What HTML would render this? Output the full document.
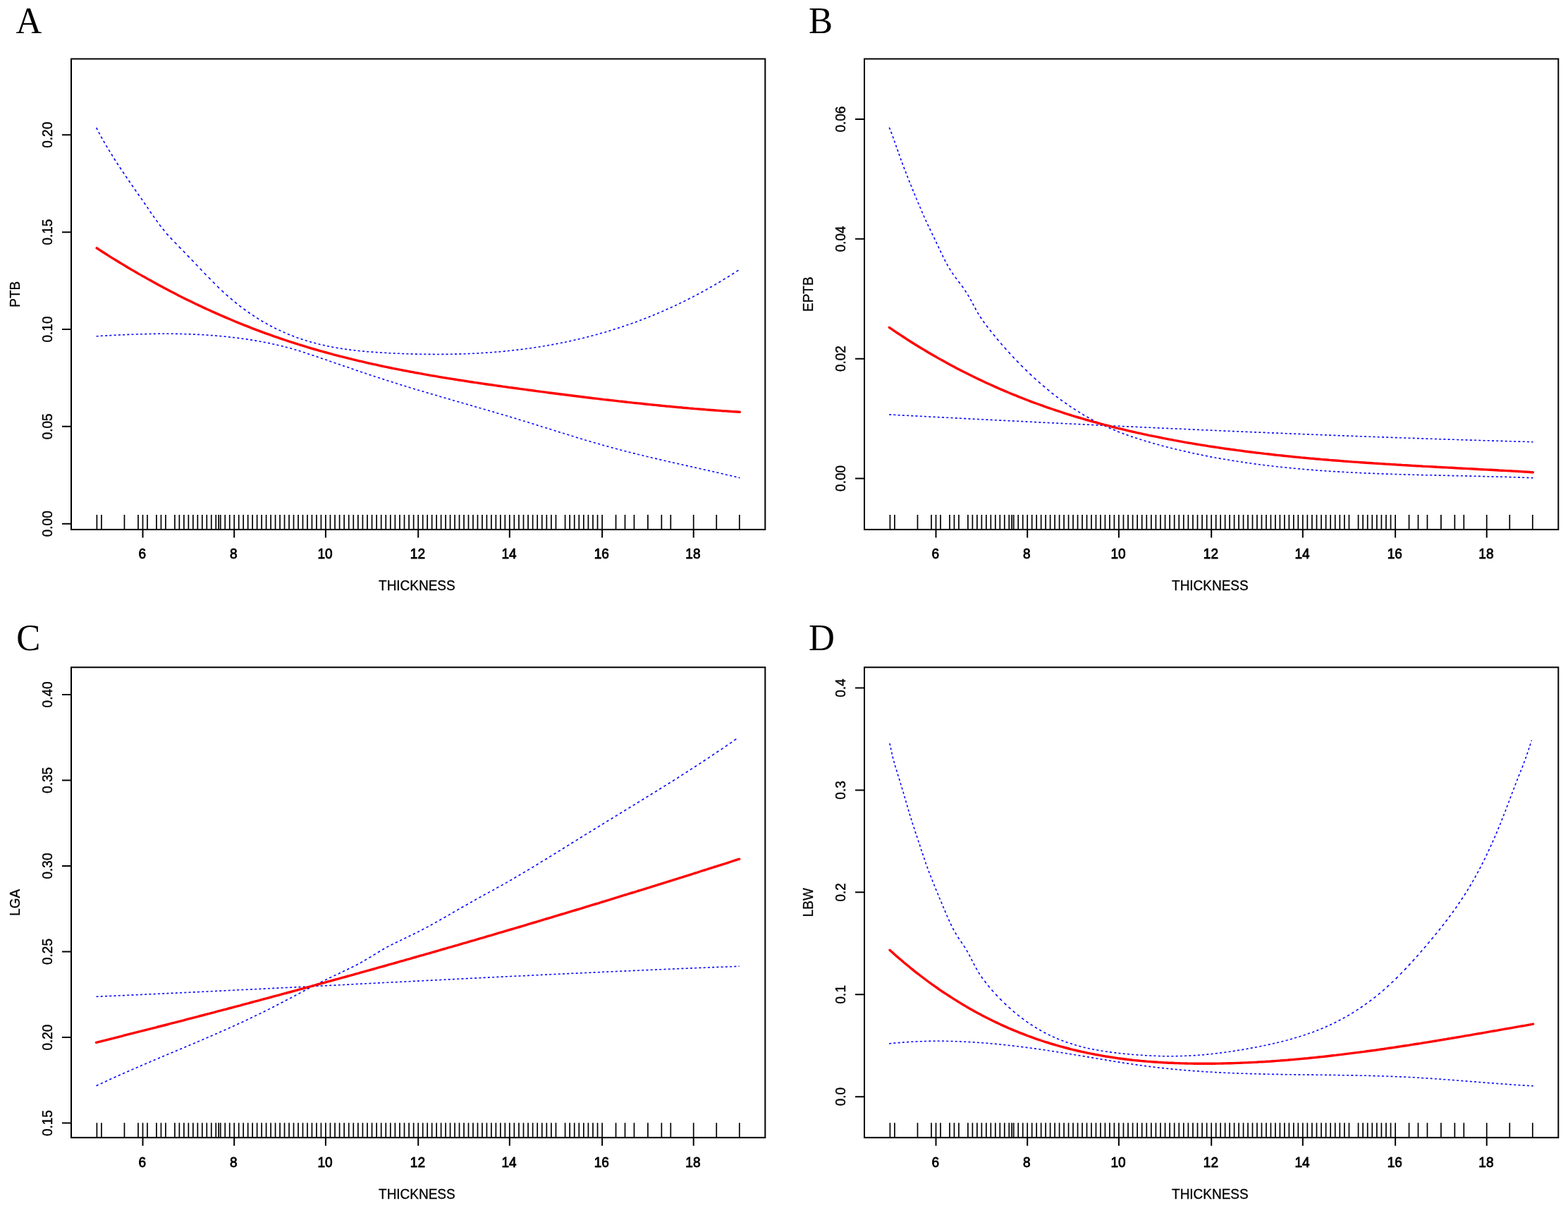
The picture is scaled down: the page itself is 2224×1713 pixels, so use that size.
<!DOCTYPE html><html><head><meta charset="utf-8"><title>Figure</title><style>
html,body{margin:0;padding:0;background:#fff;}body{width:2224px;height:1713px;overflow:hidden;}
svg{display:block;}
.ax{font-family:"Liberation Sans",Arial,sans-serif;font-size:19px;fill:#000;stroke:#000;stroke-width:0.3px;}
.tk{font-family:"Liberation Sans",Arial,sans-serif;font-size:19px;fill:#000;stroke:#000;stroke-width:0.8px;}
.tkr{font-family:"Liberation Sans",Arial,sans-serif;font-size:19px;fill:#000;stroke:#000;stroke-width:0.4px;}
.lt{font-family:"Liberation Serif","Times New Roman",serif;font-size:51px;fill:#000;}
</style></head><body>
<svg width="2224" height="1713" viewBox="0 0 2224 1713">
<rect width="2224" height="1713" fill="#fff"/>
<g><path d="M136.6 476.8L138.1 476.7 139.6 476.7M142.8 476.4L144.3 476.3 145.8 476.2M149.1 476.1L150.6 476.0 152.1 475.9M155.3 475.7L156.8 475.6 158.3 475.5M161.6 475.4L163.1 475.3 164.6 475.2M167.8 475.0L169.3 475.0 170.8 474.9M174.0 474.7L175.5 474.7 177.0 474.6M180.3 474.5L181.8 474.4 183.3 474.4M186.5 474.3L188.0 474.2 189.5 474.2M192.8 474.0L194.3 474.0 195.8 473.9M199.0 473.8L200.5 473.8 202.0 473.8M205.2 473.7L206.7 473.6 208.2 473.6M211.5 473.5L213.0 473.5 214.5 473.5M217.7 473.4L219.2 473.4 220.7 473.4M224.0 473.3L225.5 473.3 227.0 473.3M230.2 473.3L231.7 473.3 233.2 473.3M236.4 473.3L237.9 473.3 239.4 473.3M242.7 473.3L244.2 473.3 245.7 473.3M248.9 473.4L250.4 473.4 251.9 473.4M255.2 473.5L256.7 473.5 258.2 473.5M261.4 473.6L262.9 473.7 264.4 473.7M267.6 473.8L269.1 473.9 270.6 473.9M273.9 474.1L275.4 474.1 276.9 474.2M280.1 474.4L281.6 474.4 283.1 474.5M286.4 474.7L287.9 474.8 289.4 474.8M292.6 475.1L294.1 475.2 295.6 475.2M298.8 475.5L300.3 475.6 301.8 475.7M305.1 475.9L306.6 476.1 308.1 476.2M311.3 476.5L312.8 476.6 314.3 476.8M317.6 477.1L319.1 477.2 320.6 477.4M323.8 477.8L325.3 478.0 326.8 478.1M330.0 478.5L331.5 478.6 333.0 478.8M336.3 479.2L337.8 479.4 339.3 479.6M342.5 480.1L344.0 480.3 345.5 480.5M348.8 480.9L350.3 481.1 351.8 481.3M355.0 481.9L356.5 482.1 358.0 482.4M361.2 482.9L362.7 483.1 364.2 483.4M367.5 484.0L369.0 484.2 370.5 484.5M373.7 485.2L375.2 485.4 376.7 485.7M380.0 486.3L381.5 486.6 383.0 487.0M386.2 487.7L387.7 488.0 389.2 488.3M392.4 489.0L393.9 489.4 395.4 489.7M398.7 490.5L400.2 490.8 401.7 491.2M404.9 492.0L406.4 492.4 407.9 492.8M411.2 493.6L412.7 494.1 414.2 494.5M417.4 495.5L418.9 495.9 420.4 496.3M423.6 497.3L425.1 497.8 426.6 498.3M429.9 499.4L431.4 499.8 432.9 500.3M436.1 501.4L437.6 501.9 439.1 502.4M442.4 503.5L443.9 504.0 445.4 504.5M448.6 505.5L450.1 506.1 451.6 506.6M454.8 507.7L456.3 508.2 457.8 508.7M461.1 509.8L462.6 510.3 464.1 510.8M467.3 511.9L468.8 512.5 470.3 513.0M473.6 514.1L475.1 514.7 476.6 515.2M479.8 516.2L481.3 516.7 482.8 517.3M486.0 518.4L487.5 518.9 489.0 519.4M492.3 520.6L493.8 521.1 495.3 521.6M498.5 522.7L500.0 523.2 501.5 523.7M504.8 524.9L506.3 525.4 507.8 525.9M511.0 527.0L512.5 527.5 514.0 528.0M517.2 529.1L518.7 529.6 520.2 530.1M523.5 531.2L525.0 531.7 526.5 532.2M529.7 533.3L531.2 533.8 532.7 534.2M536.0 535.3L537.5 535.8 539.0 536.3M542.2 537.3L543.7 537.8 545.2 538.3M548.4 539.4L549.9 539.8 551.4 540.3M554.7 541.3L556.2 541.8 557.7 542.3M560.9 543.3L562.4 543.8 563.9 544.2M567.2 545.2L568.7 545.7 570.2 546.2M573.4 547.2L574.9 547.6 576.4 548.1M579.6 549.0L581.1 549.5 582.6 550.0M585.9 551.0L587.4 551.4 588.9 551.9M592.1 552.9L593.6 553.3 595.1 553.7M598.4 554.7L599.9 555.1 601.4 555.5M604.6 556.5L606.1 556.9 607.6 557.4M610.8 558.4L612.3 558.8 613.8 559.3M617.1 560.2L618.6 560.6 620.1 561.0M623.3 562.0L624.8 562.4 626.3 562.9M629.6 563.9L631.1 564.3 632.6 564.7M635.8 565.6L637.3 566.1 638.8 566.5M642.0 567.4L643.5 567.9 645.0 568.3M648.3 569.3L649.8 569.7 651.3 570.1M654.5 571.1L656.0 571.5 657.5 571.9M660.8 572.8L662.3 573.3 663.8 573.7M667.0 574.6L668.5 575.1 670.0 575.5M673.2 576.5L674.7 576.9 676.2 577.3M679.5 578.2L681.0 578.7 682.5 579.1M685.7 580.1L687.2 580.5 688.7 580.9M692.0 581.9L693.5 582.3 695.0 582.7M698.2 583.7L699.7 584.1 701.2 584.6M704.4 585.5L705.9 586.0 707.4 586.4M710.7 587.4L712.2 587.8 713.7 588.2M716.9 589.2L718.4 589.6 719.9 590.1M723.2 591.0L724.7 591.5 726.2 591.9M729.4 592.9L730.9 593.3 732.4 593.8M735.6 594.8L737.1 595.2 738.6 595.7M741.9 596.7L743.4 597.2 744.9 597.6M748.1 598.6L749.6 599.1 751.1 599.5M754.4 600.5L755.9 601.0 757.4 601.5M760.6 602.5L762.1 602.9 763.6 603.4M766.8 604.4L768.3 604.9 769.8 605.3M773.1 606.4L774.6 606.8 776.1 607.3M779.3 608.3L780.8 608.8 782.3 609.3M785.6 610.2L787.1 610.7 788.6 611.2M791.8 612.2L793.3 612.7 794.8 613.2M798.0 614.2L799.5 614.6 801.0 615.1M804.3 616.1L805.8 616.6 807.3 617.1M810.5 618.0L812.0 618.5 813.5 618.9M816.8 619.9L818.3 620.4 819.8 620.9M823.0 621.9L824.5 622.3 826.0 622.8M829.2 623.7L830.7 624.2 832.2 624.6M835.5 625.6L837.0 626.0 838.5 626.4M841.7 627.4L843.2 627.8 844.7 628.3M848.0 629.2L849.5 629.6 851.0 630.1M854.2 631.0L855.7 631.4 857.2 631.8M860.4 632.7L861.9 633.1 863.4 633.5M866.7 634.4L868.2 634.8 869.7 635.2M872.9 636.1L874.4 636.5 875.9 636.9M879.2 637.7L880.7 638.2 882.2 638.5M885.4 639.4L886.9 639.8 888.4 640.2M891.6 641.0L893.1 641.4 894.6 641.8M897.9 642.6L899.4 642.9 900.9 643.3M904.1 644.1L905.6 644.5 907.1 644.8M910.4 645.6L911.9 646.0 913.4 646.3M916.6 647.1L918.1 647.5 919.6 647.8M922.8 648.6L924.3 649.0 925.8 649.3M929.1 650.1L930.6 650.4 932.1 650.8M935.3 651.6L936.8 651.9 938.3 652.3M941.6 653.0L943.1 653.3 944.6 653.7M947.8 654.4L949.3 654.8 950.8 655.2M954.0 655.9L955.5 656.2 957.0 656.6M960.3 657.3L961.8 657.6 963.3 658.0M966.5 658.7L968.0 659.0 969.5 659.4M972.8 660.1L974.3 660.4 975.8 660.8M979.0 661.5L980.5 661.8 982.0 662.2M985.2 662.9L986.7 663.2 988.2 663.6M991.5 664.3L993.0 664.6 994.5 665.0M997.7 665.7L999.2 666.0 1000.7 666.4M1004.0 667.1L1005.5 667.4 1007.0 667.8M1010.2 668.5L1011.7 668.8 1013.2 669.2M1016.4 669.9L1017.9 670.2 1019.4 670.6M1022.7 671.3L1024.2 671.7 1025.7 672.1M1028.9 672.8L1030.4 673.2 1031.9 673.5M1035.2 674.3L1036.7 674.6 1038.2 675.0M1041.4 675.7L1042.9 676.1 1044.4 676.5M1047.6 677.2L1048.5 677.4 1049.3 677.6" fill="none" stroke="#0000ff" stroke-width="1.6"/><path d="M136.6 181.1L137.4 182.6 138.2 184.1M139.9 187.3L140.7 188.8 141.6 190.3M143.3 193.6L144.2 195.1 145.0 196.6M146.8 199.8L147.7 201.3 148.5 202.8M150.4 206.1L151.3 207.6 152.3 209.1M154.2 212.3L155.1 213.8 156.0 215.3M158.0 218.5L158.9 220.0 159.8 221.5M161.8 224.8L162.8 226.3 163.7 227.8M165.8 231.0L166.8 232.5 167.7 234.0M169.9 237.3L170.9 238.8 171.9 240.3M174.1 243.5L175.1 245.0 176.1 246.5M178.3 249.7L179.3 251.2 180.4 252.7M182.6 256.0L183.6 257.5 184.6 259.0M186.9 262.2L187.9 263.7 189.0 265.2M191.2 268.5L192.2 270.0 193.3 271.5M195.5 274.7L196.6 276.2 197.6 277.7M199.9 280.9L201.0 282.4 202.0 283.9M204.3 287.2L205.3 288.7 206.3 290.2M208.6 293.4L209.6 294.9 210.6 296.4M212.8 299.7L213.8 301.2 214.9 302.7M217.1 305.9L218.2 307.4 219.2 308.9M221.5 312.1L222.6 313.6 223.7 315.1M226.1 318.4L227.2 319.9 228.4 321.4M230.9 324.6L232.1 326.1 233.3 327.6M236.0 330.9L237.3 332.4 238.7 333.9M241.6 337.1L243.0 338.6 244.3 340.1M247.5 343.3L249.0 344.8 250.5 346.3M253.7 349.6L255.1 351.1 256.6 352.6M259.8 355.8L261.2 357.3 262.6 358.8M265.7 362.1L267.2 363.6 268.6 365.1M271.7 368.3L273.2 369.8 274.6 371.3M277.7 374.5L279.1 376.0 280.6 377.5M283.7 380.8L285.1 382.3 286.5 383.8M289.6 387.0L291.0 388.5 292.5 390.0M295.7 393.3L297.2 394.8 298.6 396.3M301.8 399.5L303.3 401.0 304.8 402.5M308.0 405.7L309.5 407.2 311.0 408.7M314.3 411.7L315.8 413.2 317.3 414.6M320.5 417.5L322.0 418.8 323.5 420.1M326.8 422.9L328.3 424.2 329.8 425.5M333.0 428.2L334.5 429.4 336.0 430.6M339.2 433.2L340.7 434.4 342.2 435.5M345.5 438.0L347.0 439.0 348.5 440.1M351.7 442.4L353.2 443.5 354.7 444.5M358.0 446.7L359.5 447.7 361.0 448.7M364.2 450.8L365.7 451.7 367.2 452.7M370.4 454.7L371.9 455.5 373.4 456.4M376.7 458.3L378.2 459.1 379.7 459.9M382.9 461.7L384.4 462.5 385.9 463.3M389.2 465.0L390.7 465.7 392.2 466.4M395.4 467.9L396.9 468.6 398.4 469.3M401.6 470.8L403.1 471.4 404.6 472.1M407.9 473.5L409.4 474.2 410.9 474.8M414.1 476.1L415.6 476.6 417.1 477.2M420.4 478.4L421.9 478.9 423.4 479.4M426.6 480.6L428.1 481.0 429.6 481.5M432.8 482.6L434.3 483.1 435.8 483.5M439.1 484.5L440.6 484.9 442.1 485.3M445.3 486.1L446.8 486.6 448.3 487.0M451.6 487.8L453.1 488.2 454.6 488.5M457.8 489.3L459.3 489.6 460.8 490.0M464.0 490.7L465.5 491.0 467.0 491.3M470.3 491.9L471.8 492.2 473.3 492.5M476.5 493.0L478.0 493.3 479.5 493.6M482.8 494.1L484.3 494.3 485.8 494.6M489.0 495.0L490.5 495.3 492.0 495.4M495.2 495.9L496.7 496.1 498.2 496.3M501.5 496.6L503.0 496.8 504.5 497.0M507.7 497.4L509.2 497.5 510.7 497.7M514.0 498.0L515.5 498.1 517.0 498.3M520.2 498.6L521.7 498.7 523.2 498.8M526.4 499.0L527.9 499.1 529.4 499.2M532.7 499.5L534.2 499.6 535.7 499.7M538.9 499.9L540.4 500.0 541.9 500.1M545.2 500.2L546.7 500.3 548.2 500.4M551.4 500.7L552.9 500.7 554.4 500.8M557.6 501.0L559.1 501.0 560.6 501.1M563.9 501.2L565.4 501.3 566.9 501.3M570.1 501.5L571.6 501.5 573.1 501.6M576.4 501.7L577.9 501.8 579.4 501.8M582.6 501.9L584.1 501.9 585.6 502.0M588.8 502.1L590.3 502.1 591.8 502.1M595.1 502.2L596.6 502.3 598.1 502.3M601.3 502.3L602.8 502.3 604.3 502.3M607.6 502.4L609.1 502.4 610.6 502.4M613.8 502.4L615.3 502.4 616.8 502.5M620.0 502.5L621.5 502.5 623.0 502.5M626.3 502.4L627.8 502.4 629.3 502.4M632.5 502.4L634.0 502.4 635.5 502.4M638.8 502.3L640.3 502.3 641.8 502.2M645.0 502.1L646.5 502.1 648.0 502.1M651.2 502.0L652.7 501.9 654.2 501.9M657.5 501.8L659.0 501.8 660.5 501.7M663.7 501.6L665.2 501.5 666.7 501.5M670.0 501.3L671.5 501.3 673.0 501.2M676.2 501.0L677.7 501.0 679.2 500.9M682.4 500.6L683.9 500.5 685.4 500.5M688.7 500.3L690.2 500.1 691.7 500.0M694.9 499.8L696.4 499.7 697.9 499.6M701.2 499.3L702.7 499.2 704.2 499.1M707.4 498.9L708.9 498.7 710.4 498.6M713.6 498.2L715.1 498.1 716.6 497.9M719.9 497.6L721.4 497.5 722.9 497.3M726.1 497.0L727.6 496.8 729.1 496.6M732.4 496.3L733.9 496.1 735.4 496.0M738.6 495.6L740.1 495.4 741.6 495.2M744.8 494.7L746.3 494.5 747.8 494.3M751.1 493.9L752.6 493.7 754.1 493.5M757.3 493.0L758.8 492.7 760.3 492.5M763.6 492.0L765.1 491.8 766.6 491.6M769.8 491.0L771.3 490.8 772.8 490.5M776.0 490.0L777.5 489.7 779.0 489.4M782.3 488.9L783.8 488.6 785.3 488.3M788.5 487.7L790.0 487.4 791.5 487.2M794.8 486.5L796.3 486.2 797.8 485.9M801.0 485.3L802.5 485.0 804.0 484.6M807.2 483.9L808.7 483.6 810.2 483.2M813.5 482.5L815.0 482.2 816.5 481.9M819.7 481.1L821.2 480.8 822.7 480.5M826.0 479.7L827.5 479.3 829.0 478.9M832.2 478.1L833.7 477.7 835.2 477.4M838.4 476.5L839.9 476.1 841.4 475.7M844.7 474.8L846.2 474.4 847.7 474.0M850.9 473.1L852.4 472.6 853.9 472.2M857.2 471.3L858.7 470.9 860.2 470.4M863.4 469.5L864.9 469.0 866.4 468.6M869.6 467.5L871.1 467.0 872.6 466.6M875.9 465.5L877.4 465.0 878.9 464.5M882.1 463.5L883.6 463.0 885.1 462.5M888.4 461.3L889.9 460.8 891.4 460.3M894.6 459.2L896.1 458.7 897.6 458.1M900.8 457.0L902.3 456.4 903.8 455.8M907.1 454.6L908.6 454.1 910.1 453.5M913.3 452.3L914.8 451.7 916.3 451.1M919.6 449.8L921.1 449.2 922.6 448.6M925.8 447.3L927.3 446.7 928.8 446.1M932.0 444.7L933.5 444.1 935.0 443.4M938.3 442.1L939.8 441.4 941.3 440.8M944.5 439.3L946.0 438.6 947.5 438.0M950.8 436.5L952.3 435.8 953.8 435.1M957.0 433.6L958.5 432.9 960.0 432.3M963.2 430.7L964.7 429.9 966.2 429.2M969.5 427.7L971.0 426.9 972.5 426.2M975.7 424.5L977.2 423.8 978.7 423.0M982.0 421.4L983.5 420.6 985.0 419.8M988.2 418.1L989.7 417.3 991.2 416.5M994.4 414.8L995.9 414.0 997.4 413.2M1000.7 411.4L1002.2 410.5 1003.7 409.6M1006.9 407.8L1008.4 407.0 1009.9 406.2M1013.2 404.3L1014.7 403.4 1016.2 402.5M1019.4 400.7L1020.9 399.8 1022.4 398.8M1025.6 396.8L1027.1 395.9 1028.6 395.0M1031.9 393.0L1033.4 392.1 1034.9 391.2M1038.1 389.2L1039.6 388.2 1041.1 387.3M1044.4 385.2L1045.9 384.2 1047.4 383.2" fill="none" stroke="#0000ff" stroke-width="1.6"/><path d="M137.2 351.8 L141.2 354.4 L145.2 357 L149.2 359.5 L153.2 362.1 L157.2 364.6 L161.2 367.1 L165.2 369.5 L169.2 372 L173.2 374.4 L177.2 376.8 L181.2 379.2 L185.2 381.6 L189.2 383.9 L193.2 386.3 L197.2 388.6 L201.2 390.9 L205.2 393.1 L209.2 395.4 L213.2 397.6 L217.2 399.8 L221.2 402 L225.2 404.2 L229.2 406.3 L233.2 408.5 L237.2 410.6 L241.2 412.7 L245.2 414.8 L249.2 416.8 L253.2 418.9 L257.2 420.9 L261.2 422.9 L265.2 424.9 L269.2 426.8 L273.2 428.8 L277.2 430.7 L281.2 432.6 L285.2 434.5 L289.2 436.4 L293.2 438.2 L297.2 440 L301.2 441.9 L305.2 443.6 L309.2 445.4 L313.2 447.2 L317.2 448.9 L321.2 450.6 L325.2 452.3 L329.2 454 L333.2 455.7 L337.2 457.3 L341.2 459 L345.2 460.6 L349.2 462.2 L353.2 463.7 L357.2 465.3 L361.2 466.8 L365.2 468.3 L369.2 469.8 L373.2 471.3 L377.2 472.8 L381.2 474.2 L385.2 475.6 L389.2 477.1 L393.2 478.4 L397.2 479.8 L401.2 481.2 L405.2 482.5 L409.2 483.8 L413.2 485.1 L417.2 486.4 L421.2 487.7 L425.2 489 L429.2 490.2 L433.2 491.4 L437.2 492.6 L441.2 493.8 L445.2 495 L449.2 496.1 L453.2 497.3 L457.2 498.4 L461.2 499.5 L465.2 500.6 L469.2 501.7 L473.2 502.8 L477.2 503.8 L481.2 504.9 L485.2 505.9 L489.2 506.9 L493.2 507.9 L497.2 508.9 L501.2 509.9 L505.2 510.8 L509.2 511.8 L513.2 512.7 L517.2 513.6 L521.2 514.6 L525.2 515.5 L529.2 516.3 L533.2 517.2 L537.2 518.1 L541.2 519 L545.2 519.8 L549.2 520.6 L553.2 521.5 L557.2 522.3 L561.2 523.1 L565.2 523.9 L569.2 524.7 L573.2 525.5 L577.2 526.2 L581.2 527 L585.2 527.7 L589.2 528.5 L593.2 529.2 L597.3 529.9 L601.3 530.7 L605.3 531.4 L609.3 532.1 L613.3 532.8 L617.3 533.4 L621.3 534.1 L625.3 534.8 L629.3 535.5 L633.3 536.1 L637.3 536.8 L641.3 537.4 L645.3 538 L649.3 538.7 L653.3 539.3 L657.3 539.9 L661.3 540.5 L665.3 541.2 L669.3 541.8 L673.3 542.4 L677.3 542.9 L681.3 543.5 L685.3 544.1 L689.3 544.7 L693.3 545.3 L697.3 545.8 L701.3 546.4 L705.3 547 L709.3 547.5 L713.3 548.1 L717.3 548.6 L721.3 549.2 L725.3 549.7 L729.3 550.3 L733.3 550.8 L737.3 551.4 L741.3 551.9 L745.3 552.4 L749.3 553 L753.3 553.5 L757.3 554 L761.3 554.6 L765.3 555.1 L769.3 555.6 L773.3 556.1 L777.3 556.7 L781.3 557.2 L785.3 557.7 L789.3 558.2 L793.3 558.7 L797.3 559.2 L801.3 559.7 L805.3 560.2 L809.3 560.7 L813.3 561.2 L817.3 561.7 L821.3 562.2 L825.3 562.7 L829.3 563.2 L833.3 563.7 L837.3 564.2 L841.3 564.7 L845.3 565.1 L849.3 565.6 L853.3 566.1 L857.3 566.6 L861.3 567 L865.3 567.5 L869.3 567.9 L873.3 568.4 L877.3 568.9 L881.3 569.3 L885.3 569.7 L889.3 570.2 L893.3 570.6 L897.3 571.1 L901.3 571.5 L905.3 571.9 L909.3 572.3 L913.3 572.8 L917.3 573.2 L921.3 573.6 L925.3 574 L929.3 574.4 L933.3 574.8 L937.3 575.2 L941.3 575.6 L945.3 576 L949.3 576.3 L953.3 576.7 L957.3 577.1 L961.3 577.5 L965.3 577.8 L969.3 578.2 L973.3 578.5 L977.3 578.9 L981.3 579.2 L985.3 579.6 L989.3 579.9 L993.3 580.2 L997.3 580.5 L1001.3 580.9 L1005.3 581.2 L1009.3 581.5 L1013.3 581.8 L1017.3 582.1 L1021.3 582.4 L1025.3 582.7 L1029.3 582.9 L1033.3 583.2 L1037.3 583.5 L1041.3 583.7 L1045.3 584 L1049.3 584.3" fill="none" stroke="#ff0000" stroke-width="3.4" stroke-linejoin="round" stroke-linecap="round"/><rect x="101" y="83.5" width="984.3" height="667.4" fill="none" stroke="#000" stroke-width="2"/><path d="M137.4 750.9V729.9M143.91 750.9V729.9M176.46 750.9V729.9M195.99 750.9V729.9M202.5 750.9V729.9M208.98 750.9V729.9M221.95 750.9V729.9M228.44 750.9V729.9M234.93 750.9V729.9M247.9 750.9V729.9M254.38 750.9V729.9M260.87 750.9V729.9M267.35 750.9V729.9M273.83 750.9V729.9M280.32 750.9V729.9M286.8 750.9V729.9M293.29 750.9V729.9M299.77 750.9V729.9M306.26 750.9V729.9M310.15 750.9V729.9M312.75 750.9V729.9M319.23 750.9V729.9M325.72 750.9V729.9M332.2 750.9V729.9M338.68 750.9V729.9M345.17 750.9V729.9M351.66 750.9V729.9M358.14 750.9V729.9M364.62 750.9V729.9M371.11 750.9V729.9M377.59 750.9V729.9M384.08 750.9V729.9M390.56 750.9V729.9M397.05 750.9V729.9M403.53 750.9V729.9M410.02 750.9V729.9M416.5 750.9V729.9M422.99 750.9V729.9M429.47 750.9V729.9M435.96 750.9V729.9M442.44 750.9V729.9M448.93 750.9V729.9M455.42 750.9V729.9M461.9 750.9V729.9M468.46 750.9V729.9M475.03 750.9V729.9M481.6 750.9V729.9M488.16 750.9V729.9M494.73 750.9V729.9M501.29 750.9V729.9M507.85 750.9V729.9M514.42 750.9V729.9M520.99 750.9V729.9M527.55 750.9V729.9M534.12 750.9V729.9M540.68 750.9V729.9M547.25 750.9V729.9M553.81 750.9V729.9M560.38 750.9V729.9M566.94 750.9V729.9M573.5 750.9V729.9M580.07 750.9V729.9M586.64 750.9V729.9M593.2 750.9V729.9M599.68 750.9V729.9M606.16 750.9V729.9M612.64 750.9V729.9M619.12 750.9V729.9M625.6 750.9V729.9M632.08 750.9V729.9M638.56 750.9V729.9M645.04 750.9V729.9M651.52 750.9V729.9M658 750.9V729.9M664.48 750.9V729.9M670.96 750.9V729.9M677.44 750.9V729.9M683.92 750.9V729.9M690.4 750.9V729.9M696.88 750.9V729.9M703.36 750.9V729.9M709.84 750.9V729.9M716.32 750.9V729.9M722.8 750.9V729.9M729.36 750.9V729.9M735.93 750.9V729.9M742.5 750.9V729.9M749.06 750.9V729.9M755.62 750.9V729.9M762.19 750.9V729.9M768.75 750.9V729.9M775.32 750.9V729.9M781.88 750.9V729.9M788.45 750.9V729.9M801.58 750.9V729.9M808.14 750.9V729.9M814.71 750.9V729.9M821.27 750.9V729.9M827.84 750.9V729.9M834.4 750.9V729.9M840.97 750.9V729.9M847.54 750.9V729.9M854.1 750.9V729.9M873.54 750.9V729.9M886.5 750.9V729.9M899.46 750.9V729.9M918.9 750.9V729.9M938.34 750.9V729.9M951.3 750.9V729.9M983.7 750.9V729.9M1016.25 750.9V729.9M1048.8 750.9V729.9" stroke="#000" stroke-width="1.7" fill="none"/><path d="M202.5 750.9V762.4M332.2 750.9V762.4M461.9 750.9V762.4M593.2 750.9V762.4M722.8 750.9V762.4M854.1 750.9V762.4M983.7 750.9V762.4" stroke="#000" stroke-width="2" fill="none"/><text class="tk" text-anchor="middle" transform="translate(201.7 792.2) scale(1 1.07)">6</text><text class="tk" text-anchor="middle" transform="translate(331.4 792.2) scale(1 1.07)">8</text><text class="tk" text-anchor="middle" transform="translate(461.1 792.2) scale(1 1.07)">10</text><text class="tk" text-anchor="middle" transform="translate(592.4 792.2) scale(1 1.07)">12</text><text class="tk" text-anchor="middle" transform="translate(722 792.2) scale(1 1.07)">14</text><text class="tk" text-anchor="middle" transform="translate(853.3 792.2) scale(1 1.07)">16</text><text class="tk" text-anchor="middle" transform="translate(982.9 792.2) scale(1 1.07)">18</text><path d="M101 742.74H88M101 604.87H88M101 467H88M101 329.13H88M101 191.26H88" stroke="#000" stroke-width="2" fill="none"/><text class="tkr" text-anchor="middle" transform="translate(74.3 742.74) rotate(-90) scale(1 1.07)">0.00</text><text class="tkr" text-anchor="middle" transform="translate(74.3 604.87) rotate(-90) scale(1 1.07)">0.05</text><text class="tkr" text-anchor="middle" transform="translate(74.3 467) rotate(-90) scale(1 1.07)">0.10</text><text class="tkr" text-anchor="middle" transform="translate(74.3 329.13) rotate(-90) scale(1 1.07)">0.15</text><text class="tkr" text-anchor="middle" transform="translate(74.3 191.26) rotate(-90) scale(1 1.07)">0.20</text><text class="ax" text-anchor="middle" transform="translate(591.35 837.2) scale(1 1.07)">THICKNESS</text><text class="ax" text-anchor="middle" transform="translate(28.3 417.2) rotate(-90) scale(1 1.07)">PTB</text><text class="lt" transform="translate(22.4 46.7) scale(1 1.04)">A</text></g>
<g><path d="M1261.1 587.9L1262.6 588.0 1264.1 588.1M1267.3 588.2L1268.8 588.3 1270.3 588.4M1273.6 588.6L1275.1 588.7 1276.6 588.8M1279.8 588.9L1281.3 589.0 1282.8 589.1M1286.1 589.2L1287.6 589.3 1289.1 589.4M1292.3 589.6L1293.8 589.6 1295.3 589.7M1298.5 589.9L1300.0 589.9 1301.5 590.0M1304.8 590.2L1306.3 590.3 1307.8 590.3M1311.0 590.5L1312.5 590.6 1314.0 590.7M1317.3 590.9L1318.8 591.0 1320.3 591.1M1323.5 591.2L1325.0 591.3 1326.5 591.4M1329.7 591.5L1331.2 591.6 1332.7 591.7M1336.0 591.8L1337.5 591.9 1339.0 592.0M1342.2 592.2L1343.7 592.2 1345.2 592.3M1348.5 592.5L1350.0 592.5 1351.5 592.6M1354.7 592.8L1356.2 592.9 1357.7 592.9M1360.9 593.1L1362.4 593.2 1363.9 593.2M1367.2 593.4L1368.7 593.6 1370.2 593.6M1373.4 593.8L1374.9 593.9 1376.4 594.0M1379.7 594.1L1381.2 594.2 1382.7 594.3M1385.9 594.4L1387.4 594.5 1388.9 594.6M1392.1 594.7L1393.6 594.8 1395.1 594.9M1398.4 595.1L1399.9 595.1 1401.4 595.2M1404.6 595.4L1406.1 595.4 1407.6 595.5M1410.9 595.7L1412.4 595.8 1413.9 595.8M1417.1 596.0L1418.6 596.1 1420.1 596.1M1423.3 596.3L1424.8 596.4 1426.3 596.5M1429.6 596.6L1431.1 596.7 1432.6 596.8M1435.8 596.9L1437.3 597.0 1438.8 597.1M1442.1 597.2L1443.6 597.3 1445.1 597.4M1448.3 597.5L1449.8 597.6 1451.3 597.7M1454.5 597.9L1456.0 597.9 1457.5 598.0M1460.8 598.2L1462.3 598.2 1463.8 598.3M1467.0 598.5L1468.5 598.6 1470.0 598.6M1473.3 598.8L1474.8 598.9 1476.3 598.9M1479.5 599.1L1481.0 599.2 1482.5 599.3M1485.7 599.4L1487.2 599.5 1488.7 599.6M1492.0 599.7L1493.5 599.8 1495.0 599.9M1498.2 600.0L1499.7 600.1 1501.2 600.2M1504.5 600.4L1506.0 600.4 1507.5 600.5M1510.7 600.7L1512.2 600.7 1513.7 600.8M1516.9 601.0L1518.4 601.0 1519.9 601.1M1523.2 601.2L1524.7 601.3 1526.2 601.3M1529.4 601.5L1530.9 601.6 1532.4 601.6M1535.7 601.8L1537.2 601.9 1538.7 602.0M1541.9 602.1L1543.4 602.2 1544.9 602.3M1548.1 602.4L1549.6 602.5 1551.1 602.6M1554.4 602.7L1555.9 602.8 1557.4 602.9M1560.6 603.1L1562.1 603.1 1563.6 603.2M1566.9 603.3L1568.4 603.4 1569.9 603.4M1573.1 603.6L1574.6 603.7 1576.1 603.7M1579.3 603.9L1580.8 604.0 1582.3 604.0M1585.6 604.2L1587.1 604.3 1588.6 604.3M1591.8 604.5L1593.3 604.6 1594.8 604.7M1598.1 604.8L1599.6 604.9 1601.1 605.0M1604.3 605.1L1605.8 605.1 1607.3 605.2M1610.5 605.3L1612.0 605.4 1613.5 605.5M1616.8 605.7L1618.3 605.7 1619.8 605.8M1623.0 606.0L1624.5 606.0 1626.0 606.1M1629.3 606.2L1630.8 606.3 1632.3 606.3M1635.5 606.5L1637.0 606.6 1638.5 606.6M1641.7 606.8L1643.2 606.9 1644.7 607.0M1648.0 607.1L1649.5 607.2 1651.0 607.2M1654.2 607.3L1655.7 607.4 1657.2 607.5M1660.5 607.6L1662.0 607.7 1663.5 607.8M1666.7 607.9L1668.2 608.0 1669.7 608.1M1672.9 608.2L1674.4 608.2 1675.9 608.3M1679.2 608.5L1680.7 608.5 1682.2 608.6M1685.4 608.8L1686.9 608.9 1688.4 608.9M1691.7 609.0L1693.2 609.1 1694.7 609.1M1697.9 609.3L1699.4 609.4 1700.9 609.5M1704.1 609.6L1705.6 609.7 1707.1 609.7M1710.4 609.8L1711.9 609.9 1713.4 610.0M1716.6 610.1L1718.1 610.2 1719.6 610.3M1722.9 610.4L1724.4 610.5 1725.9 610.5M1729.1 610.7L1730.6 610.7 1732.1 610.8M1735.3 611.0L1736.8 611.1 1738.3 611.1M1741.6 611.2L1743.1 611.3 1744.6 611.3M1747.8 611.5L1749.3 611.6 1750.8 611.6M1754.1 611.7L1755.6 611.8 1757.1 611.9M1760.3 612.0L1761.8 612.1 1763.3 612.2M1766.5 612.3L1768.0 612.4 1769.5 612.4M1772.8 612.5L1774.3 612.6 1775.8 612.7M1779.0 612.8L1780.5 612.9 1782.0 612.9M1785.3 613.1L1786.8 613.1 1788.3 613.2M1791.5 613.3L1793.0 613.4 1794.5 613.4M1797.7 613.6L1799.2 613.7 1800.7 613.7M1804.0 613.9L1805.5 613.9 1807.0 614.0M1810.2 614.1L1811.7 614.1 1813.2 614.2M1816.5 614.3L1818.0 614.4 1819.5 614.5M1822.7 614.6L1824.2 614.7 1825.7 614.7M1828.9 614.9L1830.4 614.9 1831.9 615.0M1835.2 615.1L1836.7 615.2 1838.2 615.2M1841.4 615.4L1842.9 615.4 1844.4 615.5M1847.7 615.6L1849.2 615.7 1850.7 615.7M1853.9 615.9L1855.4 615.9 1856.9 616.0M1860.1 616.1L1861.6 616.2 1863.1 616.2M1866.4 616.3L1867.9 616.4 1869.4 616.5M1872.6 616.6L1874.1 616.6 1875.6 616.7M1878.9 616.8L1880.4 616.9 1881.9 617.0M1885.1 617.1L1886.6 617.1 1888.1 617.2M1891.3 617.3L1892.8 617.4 1894.3 617.4M1897.6 617.6L1899.1 617.6 1900.6 617.7M1903.8 617.8L1905.3 617.9 1906.8 617.9M1910.1 618.0L1911.6 618.1 1913.1 618.2M1916.3 618.3L1917.8 618.3 1919.3 618.4M1922.5 618.5L1924.0 618.6 1925.5 618.6M1928.8 618.7L1930.3 618.8 1931.8 618.8M1935.0 618.9L1936.5 619.0 1938.0 619.1M1941.3 619.2L1942.8 619.2 1944.3 619.3M1947.5 619.4L1949.0 619.5 1950.5 619.5M1953.7 619.6L1955.2 619.7 1956.7 619.7M1960.0 619.8L1961.5 619.9 1963.0 619.9M1966.2 620.1L1967.7 620.1 1969.2 620.2M1972.5 620.3L1974.0 620.4 1975.5 620.4M1978.7 620.5L1980.2 620.6 1981.7 620.6M1984.9 620.7L1986.4 620.8 1987.9 620.8M1991.2 621.0L1992.7 621.0 1994.2 621.1M1997.4 621.2L1998.9 621.2 2000.4 621.3M2003.7 621.4L2005.2 621.4 2006.7 621.5M2009.9 621.6L2011.4 621.6 2012.9 621.7M2016.1 621.8L2017.6 621.9 2019.1 621.9M2022.4 622.0L2023.9 622.1 2025.4 622.2M2028.6 622.3L2030.1 622.3 2031.6 622.3M2034.9 622.4L2036.4 622.5 2037.9 622.6M2041.1 622.7L2042.6 622.7 2044.1 622.7M2047.3 622.8L2048.8 622.9 2050.3 622.9M2053.6 623.1L2055.1 623.1 2056.6 623.2M2059.8 623.2L2061.3 623.3 2062.8 623.3M2066.1 623.5L2067.6 623.5 2069.1 623.6M2072.3 623.6L2073.8 623.7 2075.3 623.7M2078.5 623.8L2080.0 623.9 2081.5 624.0M2084.8 624.1L2086.3 624.1 2087.8 624.1M2091.0 624.2L2092.5 624.3 2094.0 624.3M2097.3 624.4L2098.8 624.5 2100.3 624.5M2103.5 624.6L2105.0 624.7 2106.5 624.7M2109.7 624.8L2111.2 624.8 2112.7 624.9M2116.0 625.0L2117.5 625.1 2119.0 625.1M2122.2 625.2L2123.7 625.2 2125.2 625.3M2128.5 625.4L2130.0 625.4 2131.5 625.4M2134.7 625.5L2136.2 625.6 2137.7 625.7M2140.9 625.8L2142.4 625.8 2143.9 625.8M2147.2 625.9L2148.7 626.0 2150.2 626.0M2153.4 626.1L2154.9 626.1 2156.4 626.2M2159.7 626.2L2161.2 626.3 2162.7 626.3M2165.9 626.5L2167.4 626.5 2168.9 626.6M2172.1 626.6L2173.3 626.7 2174.4 626.7" fill="none" stroke="#0000ff" stroke-width="1.6"/><path d="M1261.3 180.7L1261.9 182.2 1262.5 183.7M1263.7 186.9L1264.3 188.4 1264.9 189.9M1266.1 193.2L1266.7 194.7 1267.2 196.2M1268.4 199.4L1268.9 200.9 1269.4 202.4M1270.6 205.7L1271.1 207.2 1271.6 208.7M1272.7 211.9L1273.3 213.4 1273.8 214.9M1274.9 218.1L1275.5 219.6 1276.0 221.1M1277.2 224.4L1277.7 225.9 1278.3 227.4M1279.5 230.6L1280.0 232.1 1280.6 233.6M1281.8 236.9L1282.4 238.4 1282.9 239.9M1284.2 243.1L1284.8 244.6 1285.3 246.1M1286.6 249.3L1287.2 250.8 1287.8 252.3M1289.1 255.6L1289.7 257.1 1290.3 258.6M1291.6 261.8L1292.2 263.3 1292.9 264.8M1294.2 268.1L1294.8 269.6 1295.4 271.1M1296.7 274.3L1297.3 275.8 1298.0 277.3M1299.3 280.5L1299.9 282.0 1300.6 283.5M1301.9 286.8L1302.6 288.3 1303.2 289.8M1304.6 293.0L1305.2 294.5 1305.9 296.0M1307.3 299.3L1307.9 300.8 1308.6 302.3M1310.0 305.5L1310.6 307.0 1311.3 308.5M1312.8 311.7L1313.4 313.2 1314.1 314.7M1315.6 318.0L1316.4 319.5 1317.1 321.0M1318.6 324.2L1319.3 325.7 1320.1 327.2M1321.6 330.5L1322.3 332.0 1323.1 333.5M1324.6 336.7L1325.4 338.2 1326.1 339.7M1327.6 342.9L1328.3 344.4 1329.0 345.9M1330.6 349.2L1331.3 350.7 1331.9 352.2M1333.5 355.4L1334.2 356.9 1334.9 358.4M1336.5 361.7L1337.2 363.2 1337.9 364.7M1339.6 367.9L1340.3 369.4 1341.1 370.9M1342.9 374.1L1343.7 375.6 1344.5 377.1M1346.4 380.4L1347.4 381.9 1348.3 383.4M1350.4 386.6L1351.4 388.1 1352.4 389.6M1354.8 392.9L1355.9 394.4 1357.0 395.9M1359.4 399.1L1360.6 400.6 1361.7 402.1M1364.1 405.3L1365.2 406.8 1366.3 408.3M1368.5 411.6L1369.6 413.1 1370.5 414.6M1372.6 417.8L1373.5 419.3 1374.4 420.8M1376.2 424.1L1377.1 425.6 1377.9 427.1M1379.6 430.3L1380.4 431.8 1381.2 433.3M1382.9 436.5L1383.7 438.0 1384.5 439.5M1386.4 442.8L1387.3 444.3 1388.2 445.8M1390.2 449.0L1391.2 450.5 1392.2 452.0M1394.4 455.3L1395.5 456.8 1396.5 458.3M1398.9 461.5L1400.1 463.0 1401.2 464.5M1403.8 467.7L1405.0 469.2 1406.2 470.7M1408.8 474.0L1410.1 475.5 1411.3 477.0M1413.9 480.2L1415.2 481.7 1416.5 483.2M1419.3 486.5L1420.5 488.0 1421.8 489.5M1424.7 492.7L1426.0 494.2 1427.4 495.7M1430.3 498.9L1431.6 500.4 1433.0 501.9M1436.0 505.2L1437.4 506.7 1438.8 508.2M1441.9 511.4L1443.3 512.9 1444.8 514.4M1447.9 517.7L1449.4 519.2 1450.9 520.6M1454.1 523.8L1455.6 525.2 1457.1 526.7M1460.3 529.8L1461.8 531.2 1463.3 532.6M1466.6 535.6L1468.1 537.0 1469.6 538.3M1472.8 541.2L1474.3 542.5 1475.8 543.8M1479.1 546.6L1480.6 547.9 1482.1 549.2M1485.3 551.9L1486.8 553.1 1488.3 554.3M1491.5 557.0L1493.0 558.2 1494.5 559.3M1497.8 561.8L1499.3 563.0 1500.8 564.1M1504.0 566.5L1505.5 567.6 1507.0 568.7M1510.3 571.0L1511.8 572.0 1513.3 573.1M1516.5 575.3L1518.0 576.4 1519.5 577.3M1522.7 579.4L1524.2 580.4 1525.7 581.4M1529.0 583.4L1530.5 584.4 1532.0 585.3M1535.2 587.3L1536.7 588.2 1538.2 589.1M1541.5 590.9L1543.0 591.7 1544.5 592.6M1547.7 594.4L1549.2 595.2 1550.7 596.0M1553.9 597.6L1555.4 598.4 1556.9 599.1M1560.2 600.7L1561.7 601.5 1563.2 602.2M1566.4 603.7L1567.9 604.4 1569.4 605.1M1572.7 606.5L1574.2 607.2 1575.7 607.8M1578.9 609.2L1580.4 609.8 1581.9 610.5M1585.1 611.8L1586.6 612.4 1588.1 613.0M1591.4 614.2L1592.9 614.8 1594.4 615.4M1597.6 616.6L1599.1 617.1 1600.6 617.6M1603.9 618.8L1605.4 619.3 1606.9 619.8M1610.1 620.8L1611.6 621.3 1613.1 621.8M1616.3 622.9L1617.8 623.3 1619.3 623.8M1622.6 624.8L1624.1 625.2 1625.6 625.7M1628.8 626.6L1630.3 627.1 1631.8 627.5M1635.1 628.5L1636.6 628.9 1638.1 629.3M1641.3 630.2L1642.8 630.6 1644.3 631.0M1647.5 631.9L1649.0 632.3 1650.5 632.7M1653.8 633.5L1655.3 633.9 1656.8 634.3M1660.0 635.2L1661.5 635.5 1663.0 635.9M1666.3 636.7L1667.8 637.0 1669.3 637.4M1672.5 638.2L1674.0 638.5 1675.5 638.9M1678.7 639.6L1680.2 639.9 1681.7 640.3M1685.0 641.1L1686.5 641.4 1688.0 641.7M1691.2 642.4L1692.7 642.8 1694.2 643.1M1697.5 643.8L1699.0 644.1 1700.5 644.4M1703.7 645.1L1705.2 645.4 1706.7 645.7M1709.9 646.3L1711.4 646.6 1712.9 646.9M1716.2 647.6L1717.7 647.9 1719.2 648.1M1722.4 648.7L1723.9 649.0 1725.4 649.2M1728.7 649.9L1730.2 650.1 1731.7 650.4M1734.9 651.0L1736.4 651.2 1737.9 651.5M1741.1 652.0L1742.6 652.2 1744.1 652.5M1747.4 653.1L1748.9 653.3 1750.4 653.6M1753.6 654.1L1755.1 654.3 1756.6 654.5M1759.9 655.0L1761.4 655.2 1762.9 655.4M1766.1 655.9L1767.6 656.2 1769.1 656.4M1772.3 656.8L1773.8 657.0 1775.3 657.2M1778.6 657.7L1780.1 657.9 1781.6 658.1M1784.8 658.5L1786.3 658.8 1787.8 658.9M1791.1 659.3L1792.6 659.5 1794.1 659.7M1797.3 660.1L1798.8 660.3 1800.3 660.4M1803.5 660.8L1805.0 661.0 1806.5 661.2M1809.8 661.5L1811.3 661.7 1812.8 661.8M1816.0 662.2L1817.5 662.4 1819.0 662.5M1822.3 662.8L1823.8 663.0 1825.3 663.1M1828.5 663.5L1830.0 663.6 1831.5 663.8M1834.7 664.1L1836.2 664.2 1837.7 664.4M1841.0 664.7L1842.5 664.8 1844.0 664.9M1847.2 665.2L1848.7 665.4 1850.2 665.5M1853.5 665.8L1855.0 665.9 1856.5 666.0M1859.7 666.3L1861.2 666.4 1862.7 666.6M1865.9 666.8L1867.4 666.9 1868.9 667.0M1872.2 667.3L1873.7 667.4 1875.2 667.5M1878.4 667.6L1879.9 667.7 1881.4 667.9M1884.7 668.1L1886.2 668.2 1887.7 668.3M1890.9 668.5L1892.4 668.6 1893.9 668.7M1897.1 668.9L1898.6 668.9 1900.1 669.1M1903.4 669.3L1904.9 669.3 1906.4 669.4M1909.6 669.6L1911.1 669.7 1912.6 669.7M1915.9 669.9L1917.4 670.0 1918.9 670.0M1922.1 670.2L1923.6 670.3 1925.1 670.4M1928.3 670.5L1929.8 670.6 1931.3 670.7M1934.6 670.8L1936.1 670.9 1937.6 671.0M1940.8 671.1L1942.3 671.1 1943.8 671.2M1947.1 671.3L1948.6 671.4 1950.1 671.5M1953.3 671.6L1954.8 671.6 1956.3 671.7M1959.5 671.8L1961.0 671.9 1962.5 671.9M1965.8 672.1L1967.3 672.1 1968.8 672.2M1972.0 672.2L1973.5 672.3 1975.0 672.3M1978.3 672.5L1979.8 672.5 1981.3 672.6M1984.5 672.7L1986.0 672.7 1987.5 672.7M1990.7 672.8L1992.2 672.9 1993.7 672.9M1997.0 673.0L1998.5 673.0 2000.0 673.1M2003.2 673.2L2004.7 673.3 2006.2 673.3M2009.5 673.4L2011.0 673.4 2012.5 673.5M2015.7 673.5L2017.2 673.6 2018.7 673.6M2021.9 673.7L2023.4 673.7 2024.9 673.8M2028.2 673.8L2029.7 673.8 2031.2 673.8M2034.4 673.9L2035.9 673.9 2037.4 674.0M2040.7 674.1L2042.2 674.1 2043.7 674.1M2046.9 674.2L2048.4 674.3 2049.9 674.3M2053.1 674.4L2054.6 674.4 2056.1 674.4M2059.4 674.5L2060.9 674.6 2062.4 674.6M2065.6 674.6L2067.1 674.6 2068.6 674.7M2071.9 674.7L2073.4 674.8 2074.9 674.8M2078.1 674.9L2079.6 674.9 2081.1 675.0M2084.3 675.1L2085.8 675.1 2087.3 675.1M2090.6 675.2L2092.1 675.2 2093.6 675.3M2096.8 675.4L2098.3 675.4 2099.8 675.4M2103.1 675.5L2104.6 675.6 2106.1 675.6M2109.3 675.7L2110.8 675.7 2112.3 675.8M2115.5 675.8L2117.0 675.9 2118.5 675.9M2121.8 676.0L2123.3 676.0 2124.8 676.1M2128.0 676.1L2129.5 676.2 2131.0 676.2M2134.3 676.3L2135.8 676.3 2137.3 676.4M2140.5 676.5L2142.0 676.6 2143.5 676.6M2146.7 676.7L2148.2 676.7 2149.7 676.8M2153.0 676.9L2154.5 676.9 2156.0 677.0M2159.2 677.1L2160.7 677.2 2162.2 677.2M2165.5 677.4L2167.0 677.4 2168.5 677.5M2171.7 677.6L2173.1 677.6 2174.4 677.7" fill="none" stroke="#0000ff" stroke-width="1.6"/><path d="M1261.3 464.4 L1265.3 467.1 L1269.3 469.9 L1273.3 472.5 L1277.3 475.2 L1281.3 477.8 L1285.3 480.4 L1289.3 483 L1293.3 485.5 L1297.3 488 L1301.3 490.5 L1305.4 493 L1309.4 495.4 L1313.4 497.8 L1317.4 500.2 L1321.4 502.5 L1325.4 504.8 L1329.4 507.1 L1333.4 509.4 L1337.4 511.6 L1341.4 513.8 L1345.4 516 L1349.4 518.2 L1353.4 520.3 L1357.4 522.4 L1361.4 524.5 L1365.4 526.6 L1369.4 528.6 L1373.4 530.6 L1377.4 532.6 L1381.4 534.6 L1385.4 536.5 L1389.5 538.4 L1393.5 540.3 L1397.5 542.2 L1401.5 544 L1405.5 545.8 L1409.5 547.6 L1413.5 549.4 L1417.5 551.2 L1421.5 552.9 L1425.5 554.6 L1429.5 556.3 L1433.5 558 L1437.5 559.6 L1441.5 561.2 L1445.5 562.9 L1449.5 564.4 L1453.5 566 L1457.5 567.5 L1461.5 569.1 L1465.5 570.6 L1469.6 572 L1473.6 573.5 L1477.6 574.9 L1481.6 576.4 L1485.6 577.8 L1489.6 579.2 L1493.6 580.5 L1497.6 581.9 L1501.6 583.2 L1505.6 584.5 L1509.6 585.8 L1513.6 587.1 L1517.6 588.3 L1521.6 589.6 L1525.6 590.8 L1529.6 592 L1533.6 593.2 L1537.6 594.4 L1541.6 595.5 L1545.6 596.7 L1549.6 597.8 L1553.7 598.9 L1557.7 600 L1561.7 601.1 L1565.7 602.2 L1569.7 603.2 L1573.7 604.2 L1577.7 605.3 L1581.7 606.3 L1585.7 607.3 L1589.7 608.2 L1593.7 609.2 L1597.7 610.1 L1601.7 611.1 L1605.7 612 L1609.7 612.9 L1613.7 613.8 L1617.7 614.7 L1621.7 615.6 L1625.7 616.4 L1629.7 617.3 L1633.7 618.1 L1637.8 618.9 L1641.8 619.7 L1645.8 620.5 L1649.8 621.3 L1653.8 622.1 L1657.8 622.9 L1661.8 623.6 L1665.8 624.4 L1669.8 625.1 L1673.8 625.8 L1677.8 626.6 L1681.8 627.3 L1685.8 628 L1689.8 628.6 L1693.8 629.3 L1697.8 630 L1701.8 630.6 L1705.8 631.3 L1709.8 631.9 L1713.8 632.6 L1717.8 633.2 L1721.9 633.8 L1725.9 634.4 L1729.9 635 L1733.9 635.6 L1737.9 636.2 L1741.9 636.7 L1745.9 637.3 L1749.9 637.8 L1753.9 638.4 L1757.9 638.9 L1761.9 639.4 L1765.9 640 L1769.9 640.5 L1773.9 641 L1777.9 641.5 L1781.9 642 L1785.9 642.4 L1789.9 642.9 L1793.9 643.4 L1797.9 643.8 L1802 644.3 L1806 644.7 L1810 645.2 L1814 645.6 L1818 646 L1822 646.5 L1826 646.9 L1830 647.3 L1834 647.7 L1838 648.1 L1842 648.5 L1846 648.9 L1850 649.2 L1854 649.6 L1858 650 L1862 650.3 L1866 650.7 L1870 651 L1874 651.4 L1878 651.7 L1882 652 L1886.1 652.4 L1890.1 652.7 L1894.1 653 L1898.1 653.3 L1902.1 653.6 L1906.1 654 L1910.1 654.3 L1914.1 654.6 L1918.1 654.9 L1922.1 655.1 L1926.1 655.4 L1930.1 655.7 L1934.1 656 L1938.1 656.3 L1942.1 656.5 L1946.1 656.8 L1950.1 657.1 L1954.1 657.3 L1958.1 657.6 L1962.1 657.8 L1966.1 658.1 L1970.2 658.3 L1974.2 658.6 L1978.2 658.8 L1982.2 659.1 L1986.2 659.3 L1990.2 659.6 L1994.2 659.8 L1998.2 660 L2002.2 660.3 L2006.2 660.5 L2010.2 660.7 L2014.2 660.9 L2018.2 661.2 L2022.2 661.4 L2026.2 661.6 L2030.2 661.8 L2034.2 662 L2038.2 662.3 L2042.2 662.5 L2046.2 662.7 L2050.3 662.9 L2054.3 663.1 L2058.3 663.3 L2062.3 663.5 L2066.3 663.8 L2070.3 664 L2074.3 664.2 L2078.3 664.4 L2082.3 664.6 L2086.3 664.8 L2090.3 665 L2094.3 665.2 L2098.3 665.5 L2102.3 665.7 L2106.3 665.9 L2110.3 666.1 L2114.3 666.3 L2118.3 666.5 L2122.3 666.7 L2126.3 667 L2130.3 667.2 L2134.4 667.4 L2138.4 667.6 L2142.4 667.8 L2146.4 668.1 L2150.4 668.3 L2154.4 668.5 L2158.4 668.8 L2162.4 669 L2166.4 669.2 L2170.4 669.5 L2174.4 669.7" fill="none" stroke="#ff0000" stroke-width="3.4" stroke-linejoin="round" stroke-linecap="round"/><rect x="1226" y="83.5" width="984.3" height="667.4" fill="none" stroke="#000" stroke-width="2"/><path d="M1262.4 750.9V729.9M1268.91 750.9V729.9M1301.46 750.9V729.9M1320.99 750.9V729.9M1327.5 750.9V729.9M1333.98 750.9V729.9M1346.95 750.9V729.9M1353.44 750.9V729.9M1359.92 750.9V729.9M1372.89 750.9V729.9M1379.38 750.9V729.9M1385.87 750.9V729.9M1392.35 750.9V729.9M1398.84 750.9V729.9M1405.32 750.9V729.9M1411.8 750.9V729.9M1418.29 750.9V729.9M1424.78 750.9V729.9M1431.26 750.9V729.9M1435.15 750.9V729.9M1437.74 750.9V729.9M1444.23 750.9V729.9M1450.72 750.9V729.9M1457.2 750.9V729.9M1463.68 750.9V729.9M1470.17 750.9V729.9M1476.65 750.9V729.9M1483.14 750.9V729.9M1489.62 750.9V729.9M1496.11 750.9V729.9M1502.59 750.9V729.9M1509.08 750.9V729.9M1515.57 750.9V729.9M1522.05 750.9V729.9M1528.53 750.9V729.9M1535.02 750.9V729.9M1541.51 750.9V729.9M1547.99 750.9V729.9M1554.47 750.9V729.9M1560.96 750.9V729.9M1567.44 750.9V729.9M1573.93 750.9V729.9M1580.41 750.9V729.9M1586.9 750.9V729.9M1593.46 750.9V729.9M1600.03 750.9V729.9M1606.6 750.9V729.9M1613.16 750.9V729.9M1619.72 750.9V729.9M1626.29 750.9V729.9M1632.86 750.9V729.9M1639.42 750.9V729.9M1645.99 750.9V729.9M1652.55 750.9V729.9M1659.12 750.9V729.9M1665.68 750.9V729.9M1672.25 750.9V729.9M1678.81 750.9V729.9M1685.38 750.9V729.9M1691.94 750.9V729.9M1698.51 750.9V729.9M1705.07 750.9V729.9M1711.64 750.9V729.9M1718.2 750.9V729.9M1724.68 750.9V729.9M1731.16 750.9V729.9M1737.64 750.9V729.9M1744.12 750.9V729.9M1750.6 750.9V729.9M1757.08 750.9V729.9M1763.56 750.9V729.9M1770.04 750.9V729.9M1776.52 750.9V729.9M1783 750.9V729.9M1789.48 750.9V729.9M1795.96 750.9V729.9M1802.44 750.9V729.9M1808.92 750.9V729.9M1815.4 750.9V729.9M1821.88 750.9V729.9M1828.36 750.9V729.9M1834.84 750.9V729.9M1841.32 750.9V729.9M1847.8 750.9V729.9M1854.36 750.9V729.9M1860.93 750.9V729.9M1867.49 750.9V729.9M1874.06 750.9V729.9M1880.62 750.9V729.9M1887.19 750.9V729.9M1893.75 750.9V729.9M1900.32 750.9V729.9M1906.88 750.9V729.9M1913.45 750.9V729.9M1926.58 750.9V729.9M1933.14 750.9V729.9M1939.71 750.9V729.9M1946.28 750.9V729.9M1952.84 750.9V729.9M1959.4 750.9V729.9M1965.97 750.9V729.9M1972.54 750.9V729.9M1979.1 750.9V729.9M1998.54 750.9V729.9M2011.5 750.9V729.9M2024.46 750.9V729.9M2043.9 750.9V729.9M2063.34 750.9V729.9M2076.3 750.9V729.9M2108.7 750.9V729.9M2141.25 750.9V729.9M2173.8 750.9V729.9" stroke="#000" stroke-width="1.7" fill="none"/><path d="M1327.5 750.9V762.4M1457.2 750.9V762.4M1586.9 750.9V762.4M1718.2 750.9V762.4M1847.8 750.9V762.4M1979.1 750.9V762.4M2108.7 750.9V762.4" stroke="#000" stroke-width="2" fill="none"/><text class="tk" text-anchor="middle" transform="translate(1326.7 792.2) scale(1 1.07)">6</text><text class="tk" text-anchor="middle" transform="translate(1456.4 792.2) scale(1 1.07)">8</text><text class="tk" text-anchor="middle" transform="translate(1586.1 792.2) scale(1 1.07)">10</text><text class="tk" text-anchor="middle" transform="translate(1717.4 792.2) scale(1 1.07)">12</text><text class="tk" text-anchor="middle" transform="translate(1847 792.2) scale(1 1.07)">14</text><text class="tk" text-anchor="middle" transform="translate(1978.3 792.2) scale(1 1.07)">16</text><text class="tk" text-anchor="middle" transform="translate(2107.9 792.2) scale(1 1.07)">18</text><path d="M1226 678.42H1213M1226 508.64H1213M1226 338.86H1213M1226 169.08H1213" stroke="#000" stroke-width="2" fill="none"/><text class="tkr" text-anchor="middle" transform="translate(1199.3 678.42) rotate(-90) scale(1 1.07)">0.00</text><text class="tkr" text-anchor="middle" transform="translate(1199.3 508.64) rotate(-90) scale(1 1.07)">0.02</text><text class="tkr" text-anchor="middle" transform="translate(1199.3 338.86) rotate(-90) scale(1 1.07)">0.04</text><text class="tkr" text-anchor="middle" transform="translate(1199.3 169.08) rotate(-90) scale(1 1.07)">0.06</text><text class="ax" text-anchor="middle" transform="translate(1716.35 837.2) scale(1 1.07)">THICKNESS</text><text class="ax" text-anchor="middle" transform="translate(1153.3 417.2) rotate(-90) scale(1 1.07)">EPTB</text><text class="lt" transform="translate(1147.1 46.7) scale(1 1.04)">B</text></g>
<g><path d="M136.5 1413.2L138.0 1413.2 139.5 1413.1M142.7 1413.0L144.2 1412.9 145.7 1412.8M149.0 1412.7L150.5 1412.6 152.0 1412.5M155.2 1412.4L156.7 1412.4 158.2 1412.3M161.5 1412.2L163.0 1412.1 164.5 1412.0M167.7 1411.8L169.2 1411.8 170.7 1411.7M173.9 1411.6L175.4 1411.6 176.9 1411.5M180.2 1411.3L181.7 1411.2 183.2 1411.2M186.4 1411.0L187.9 1410.9 189.4 1410.9M192.7 1410.8L194.2 1410.7 195.7 1410.6M198.9 1410.5L200.4 1410.4 201.9 1410.3M205.1 1410.2L206.6 1410.1 208.1 1410.0M211.4 1409.9L212.9 1409.8 214.4 1409.8M217.6 1409.6L219.1 1409.6 220.6 1409.5M223.9 1409.3L225.4 1409.3 226.9 1409.2M230.1 1409.0L231.6 1408.9 233.1 1408.9M236.3 1408.7L237.8 1408.6 239.3 1408.6M242.6 1408.4L244.1 1408.4 245.6 1408.3M248.8 1408.2L250.3 1408.1 251.8 1408.0M255.1 1407.9L256.6 1407.8 258.1 1407.7M261.3 1407.6L262.8 1407.5 264.3 1407.4M267.5 1407.2L269.0 1407.2 270.5 1407.1M273.8 1406.9L275.3 1406.9 276.8 1406.8M280.0 1406.6L281.5 1406.6 283.0 1406.5M286.3 1406.4L287.8 1406.3 289.3 1406.3M292.5 1406.1L294.0 1406.0 295.5 1406.0M298.7 1405.8L300.2 1405.7 301.7 1405.6M305.0 1405.5L306.5 1405.4 308.0 1405.3M311.2 1405.2L312.7 1405.1 314.2 1405.0M317.5 1404.9L319.0 1404.8 320.5 1404.7M323.7 1404.5L325.2 1404.5 326.7 1404.4M329.9 1404.2L331.4 1404.2 332.9 1404.1M336.2 1403.9L337.7 1403.8 339.2 1403.8M342.4 1403.6L343.9 1403.5 345.4 1403.5M348.7 1403.4L350.2 1403.3 351.7 1403.2M354.9 1403.1L356.4 1403.0 357.9 1402.9M361.1 1402.8L362.6 1402.7 364.1 1402.6M367.4 1402.5L368.9 1402.4 370.4 1402.3M373.6 1402.1L375.1 1402.1 376.6 1402.0M379.9 1401.8L381.4 1401.8 382.9 1401.7M386.1 1401.5L387.6 1401.4 389.1 1401.4M392.3 1401.2L393.8 1401.1 395.3 1401.1M398.6 1400.9L400.1 1400.8 401.6 1400.7M404.8 1400.6L406.3 1400.5 407.8 1400.4M411.1 1400.3L412.6 1400.2 414.1 1400.1M417.3 1400.0L418.8 1399.9 420.3 1399.8M423.5 1399.6L425.0 1399.6 426.5 1399.5M429.8 1399.3L431.3 1399.3 432.8 1399.2M436.0 1399.0L437.5 1398.9 439.0 1398.9M442.3 1398.7L443.8 1398.6 445.3 1398.6M448.5 1398.4L450.0 1398.3 451.5 1398.2M454.7 1398.1L456.2 1398.0 457.7 1397.9M461.0 1397.8L462.5 1397.7 464.0 1397.6M467.2 1397.5L468.7 1397.4 470.2 1397.3M473.5 1397.2L475.0 1397.1 476.5 1397.0M479.7 1396.8L481.2 1396.8 482.7 1396.7M485.9 1396.5L487.4 1396.5 488.9 1396.4M492.2 1396.2L493.7 1396.1 495.2 1396.1M498.4 1395.9L499.9 1395.7 501.4 1395.7M504.7 1395.5L506.2 1395.4 507.7 1395.3M510.9 1395.2L512.4 1395.1 513.9 1395.0M517.1 1394.9L518.6 1394.8 520.1 1394.7M523.4 1394.6L524.9 1394.5 526.4 1394.4M529.6 1394.2L531.1 1394.2 532.6 1394.1M535.9 1393.9L537.4 1393.9 538.9 1393.8M542.1 1393.6L543.6 1393.5 545.1 1393.5M548.3 1393.3L549.8 1393.2 551.3 1393.2M554.6 1393.0L556.1 1392.9 557.6 1392.8M560.8 1392.7L562.3 1392.6 563.8 1392.5M567.1 1392.4L568.6 1392.3 570.1 1392.2M573.3 1392.1L574.8 1392.0 576.3 1391.9M579.5 1391.7L581.0 1391.7 582.5 1391.6M585.8 1391.4L587.3 1391.4 588.8 1391.3M592.0 1391.1L593.5 1391.1 595.0 1391.0M598.3 1390.8L599.8 1390.7 601.3 1390.7M604.5 1390.5L606.0 1390.4 607.5 1390.4M610.7 1390.2L612.2 1390.1 613.7 1390.0M617.0 1389.9L618.5 1389.8 620.0 1389.7M623.2 1389.6L624.7 1389.5 626.2 1389.4M629.5 1389.3L631.0 1389.2 632.5 1389.1M635.7 1388.9L637.2 1388.9 638.7 1388.8M641.9 1388.6L643.4 1388.6 644.9 1388.5M648.2 1388.3L649.7 1388.2 651.2 1388.2M654.4 1388.0L655.9 1387.9 657.4 1387.9M660.7 1387.7L662.2 1387.6 663.7 1387.5M666.9 1387.4L668.4 1387.3 669.9 1387.2M673.1 1387.1L674.6 1387.0 676.1 1386.9M679.4 1386.8L680.9 1386.7 682.4 1386.6M685.6 1386.4L687.1 1386.4 688.6 1386.3M691.9 1386.1L693.4 1386.1 694.9 1386.0M698.1 1385.8L699.6 1385.8 701.1 1385.7M704.3 1385.5L705.8 1385.4 707.3 1385.4M710.6 1385.2L712.1 1385.1 713.6 1385.1M716.8 1384.9L718.3 1384.8 719.8 1384.7M723.1 1384.6L724.6 1384.5 726.1 1384.4M729.3 1384.3L730.8 1384.2 732.3 1384.1M735.5 1384.0L737.0 1384.0 738.5 1383.9M741.8 1383.7L743.3 1383.7 744.8 1383.6M748.0 1383.4L749.5 1383.4 751.0 1383.3M754.3 1383.1L755.8 1383.0 757.3 1383.0M760.5 1382.8L762.0 1382.7 763.5 1382.7M766.7 1382.5L768.2 1382.4 769.7 1382.3M773.0 1382.2L774.5 1382.1 776.0 1382.0M779.2 1381.9L780.7 1381.8 782.2 1381.7M785.5 1381.6L787.0 1381.5 788.5 1381.5M791.7 1381.3L793.2 1381.3 794.7 1381.2M797.9 1381.0L799.4 1381.0 800.9 1380.9M804.2 1380.7L805.7 1380.6 807.2 1380.6M810.4 1380.4L811.9 1380.3 813.4 1380.3M816.7 1380.1L818.2 1380.1 819.7 1380.0M822.9 1379.9L824.4 1379.8 825.9 1379.7M829.1 1379.6L830.6 1379.5 832.1 1379.4M835.4 1379.3L836.9 1379.2 838.4 1379.1M841.6 1378.9L843.1 1378.9 844.6 1378.8M847.9 1378.7L849.4 1378.7 850.9 1378.6M854.1 1378.4L855.6 1378.3 857.1 1378.3M860.3 1378.1L861.8 1378.0 863.3 1378.0M866.6 1377.9L868.1 1377.8 869.6 1377.8M872.8 1377.6L874.3 1377.5 875.8 1377.4M879.1 1377.3L880.6 1377.2 882.1 1377.1M885.3 1377.0L886.8 1376.9 888.3 1376.9M891.5 1376.8L893.0 1376.7 894.5 1376.6M897.8 1376.4L899.3 1376.4 900.8 1376.3M904.0 1376.2L905.5 1376.2 907.0 1376.1M910.3 1375.9L911.8 1375.8 913.3 1375.8M916.5 1375.6L918.0 1375.6 919.5 1375.5M922.7 1375.4L924.2 1375.3 925.7 1375.2M929.0 1375.1L930.5 1375.0 932.0 1374.9M935.2 1374.8L936.7 1374.8 938.2 1374.7M941.5 1374.6L943.0 1374.5 944.5 1374.4M947.7 1374.3L949.2 1374.3 950.7 1374.2M953.9 1374.0L955.4 1374.0 956.9 1373.9M960.2 1373.8L961.7 1373.7 963.2 1373.7M966.4 1373.5L967.9 1373.4 969.4 1373.4M972.7 1373.3L974.2 1373.2 975.7 1373.1M978.9 1373.0L980.4 1372.9 981.9 1372.9M985.1 1372.8L986.6 1372.7 988.1 1372.6M991.4 1372.5L992.9 1372.4 994.4 1372.4M997.6 1372.2L999.1 1372.2 1000.6 1372.1M1003.9 1372.0L1005.4 1372.0 1006.9 1371.9M1010.1 1371.7L1011.6 1371.6 1013.1 1371.6M1016.3 1371.5L1017.8 1371.4 1019.3 1371.4M1022.6 1371.3L1024.1 1371.2 1025.6 1371.2M1028.8 1371.0L1030.3 1371.0 1031.8 1370.9M1035.1 1370.8L1036.6 1370.7 1038.1 1370.7M1041.3 1370.6L1042.8 1370.5 1044.3 1370.4M1047.5 1370.3L1048.1 1370.3 1048.6 1370.3" fill="none" stroke="#0000ff" stroke-width="1.6"/><path d="M136.5 1539.7L138.0 1539.0 139.5 1538.3M142.7 1536.8L144.2 1536.1 145.7 1535.4M149.0 1533.9L150.5 1533.2 152.0 1532.5M155.2 1531.0L156.7 1530.3 158.2 1529.6M161.5 1528.2L163.0 1527.5 164.5 1526.8M167.7 1525.4L169.2 1524.7 170.7 1524.0M173.9 1522.6L175.4 1522.0 176.9 1521.3M180.2 1519.8L181.7 1519.2 183.2 1518.5M186.4 1517.1L187.9 1516.4 189.4 1515.8M192.7 1514.4L194.2 1513.8 195.7 1513.1M198.9 1511.7L200.4 1511.0 201.9 1510.4M205.1 1509.0L206.6 1508.4 208.1 1507.8M211.4 1506.4L212.9 1505.7 214.4 1505.1M217.6 1503.7L219.1 1503.1 220.6 1502.4M223.9 1501.1L225.4 1500.4 226.9 1499.8M230.1 1498.5L231.6 1497.8 233.1 1497.2M236.3 1495.8L237.8 1495.2 239.3 1494.6M242.6 1493.3L244.1 1492.6 245.6 1492.0M248.8 1490.6L250.3 1490.0 251.8 1489.3M255.1 1488.0L256.6 1487.3 258.1 1486.7M261.3 1485.3L262.8 1484.7 264.3 1484.0M267.5 1482.7L269.0 1482.1 270.5 1481.5M273.8 1480.1L275.3 1479.5 276.8 1478.8M280.0 1477.4L281.5 1476.8 283.0 1476.2M286.3 1474.8L287.8 1474.1 289.3 1473.4M292.5 1472.0L294.0 1471.4 295.5 1470.8M298.7 1469.4L300.2 1468.8 301.7 1468.1M305.0 1466.6L306.5 1466.0 308.0 1465.4M311.2 1463.9L312.7 1463.2 314.2 1462.6M317.5 1461.2L319.0 1460.5 320.5 1459.9M323.7 1458.4L325.2 1457.7 326.7 1457.1M329.9 1455.6L331.4 1454.9 332.9 1454.2M336.2 1452.7L337.7 1452.0 339.2 1451.3M342.4 1449.9L343.9 1449.2 345.4 1448.5M348.7 1447.0L350.2 1446.3 351.7 1445.5M354.9 1444.0L356.4 1443.3 357.9 1442.6M361.1 1441.0L362.6 1440.3 364.1 1439.6M367.4 1438.0L368.9 1437.3 370.4 1436.6M373.6 1435.0L375.1 1434.2 376.6 1433.5M379.9 1431.9L381.4 1431.1 382.9 1430.4M386.1 1428.7L387.6 1427.9 389.1 1427.2M392.3 1425.5L393.8 1424.7 395.3 1424.0M398.6 1422.3L400.1 1421.5 401.6 1420.7M404.8 1419.0L406.3 1418.2 407.8 1417.4M411.1 1415.7L412.6 1415.0 414.1 1414.2M417.3 1412.5L418.8 1411.7 420.3 1410.9M423.5 1409.2L425.0 1408.4 426.5 1407.6M429.8 1405.8L431.3 1405.0 432.8 1404.3M436.0 1402.6L437.5 1401.8 439.0 1401.0M442.3 1399.4L443.8 1398.6 445.3 1397.8M448.5 1396.1L450.0 1395.3 451.5 1394.6M454.7 1393.0L456.2 1392.2 457.7 1391.5M461.0 1389.9L462.5 1389.1 464.0 1388.4M467.2 1386.8L468.7 1386.1 470.2 1385.4M473.5 1383.8L475.0 1383.1 476.5 1382.4M479.7 1380.9L481.2 1380.2 482.7 1379.5M485.9 1377.9L487.4 1377.2 488.9 1376.5M492.2 1374.9L493.7 1374.2 495.2 1373.5M498.4 1371.9L499.9 1371.2 501.4 1370.4M504.7 1368.8L506.2 1368.0 507.7 1367.2M510.9 1365.5L512.4 1364.7 513.9 1363.8M517.1 1362.0L518.6 1361.1 520.1 1360.2M523.4 1358.3L524.9 1357.4 526.4 1356.5M529.6 1354.5L531.1 1353.6 532.6 1352.7M535.9 1350.6L537.4 1349.7 538.9 1348.8M542.1 1346.9L543.6 1346.0 545.1 1345.2M548.3 1343.4L549.8 1342.6 551.3 1341.8M554.6 1340.1L556.1 1339.3 557.6 1338.6M560.8 1336.9L562.3 1336.2 563.8 1335.5M567.1 1334.0L568.6 1333.3 570.1 1332.6M573.3 1331.0L574.8 1330.3 576.3 1329.6M579.5 1328.0L581.0 1327.2 582.5 1326.5M585.8 1325.0L587.3 1324.2 588.8 1323.5M592.0 1321.9L593.5 1321.1 595.0 1320.4M598.3 1318.7L599.8 1317.9 601.3 1317.1M604.5 1315.4L606.0 1314.6 607.5 1313.8M610.7 1312.0L612.2 1311.2 613.7 1310.4M617.0 1308.6L618.5 1307.7 620.0 1306.9M623.2 1305.1L624.7 1304.2 626.2 1303.4M629.5 1301.5L631.0 1300.7 632.5 1299.8M635.7 1297.9L637.2 1297.1 638.7 1296.2M641.9 1294.3L643.4 1293.5 644.9 1292.6M648.2 1290.8L649.7 1289.9 651.2 1289.0M654.4 1287.2L655.9 1286.3 657.4 1285.5M660.7 1283.7L662.2 1282.8 663.7 1282.0M666.9 1280.1L668.4 1279.2 669.9 1278.4M673.1 1276.6L674.6 1275.7 676.1 1274.9M679.4 1273.1L680.9 1272.3 682.4 1271.4M685.6 1269.6L687.1 1268.8 688.6 1268.0M691.9 1266.2L693.4 1265.4 694.9 1264.6M698.1 1262.9L699.6 1262.1 701.1 1261.2M704.3 1259.4L705.8 1258.5 707.3 1257.7M710.6 1255.9L712.1 1255.1 713.6 1254.3M716.8 1252.4L718.3 1251.6 719.8 1250.7M723.1 1248.9L724.6 1248.0 726.1 1247.2M729.3 1245.3L730.8 1244.4 732.3 1243.5M735.5 1241.6L737.0 1240.8 738.5 1239.9M741.8 1237.9L743.3 1237.0 744.8 1236.1M748.0 1234.2L749.5 1233.4 751.0 1232.5M754.3 1230.5L755.8 1229.6 757.3 1228.6M760.5 1226.7L762.0 1225.8 763.5 1224.9M766.7 1222.9L768.2 1221.9 769.7 1221.0M773.0 1219.1L774.5 1218.2 776.0 1217.3M779.2 1215.3L780.7 1214.4 782.2 1213.5M785.5 1211.4L787.0 1210.5 788.5 1209.6M791.7 1207.5L793.2 1206.6 794.7 1205.7M797.9 1203.8L799.4 1202.8 800.9 1201.9M804.2 1199.9L805.7 1198.9 807.2 1198.0M810.4 1196.0L811.9 1195.0 813.4 1194.1M816.7 1192.1L818.2 1191.1 819.7 1190.2M822.9 1188.2L824.4 1187.3 825.9 1186.4M829.1 1184.3L830.6 1183.4 832.1 1182.5M835.4 1180.5L836.9 1179.6 838.4 1178.7M841.6 1176.6L843.1 1175.7 844.6 1174.8M847.9 1172.8L849.4 1171.9 850.9 1171.0M854.1 1169.0L855.6 1168.1 857.1 1167.2M860.3 1165.1L861.8 1164.2 863.3 1163.3M866.6 1161.4L868.1 1160.5 869.6 1159.6M872.8 1157.5L874.3 1156.6 875.8 1155.7M879.1 1153.7L880.6 1152.8 882.1 1151.9M885.3 1150.0L886.8 1149.0 888.3 1148.1M891.5 1146.1L893.0 1145.2 894.5 1144.3M897.8 1142.3L899.3 1141.4 900.8 1140.5M904.0 1138.5L905.5 1137.5 907.0 1136.6M910.3 1134.7L911.8 1133.7 913.3 1132.8M916.5 1130.8L918.0 1129.9 919.5 1129.0M922.7 1127.0L924.2 1126.0 925.7 1125.1M929.0 1123.1L930.5 1122.2 932.0 1121.3M935.2 1119.2L936.7 1118.3 938.2 1117.4M941.5 1115.3L943.0 1114.4 944.5 1113.5M947.7 1111.5L949.2 1110.5 950.7 1109.6M953.9 1107.6L955.4 1106.7 956.9 1105.7M960.2 1103.6L961.7 1102.7 963.2 1101.7M966.4 1099.7L967.9 1098.7 969.4 1097.7M972.7 1095.7L974.2 1094.7 975.7 1093.8M978.9 1091.7L980.4 1090.7 981.9 1089.7M985.1 1087.6L986.6 1086.7 988.1 1085.7M991.4 1083.6L992.9 1082.6 994.4 1081.6M997.6 1079.5L999.1 1078.5 1000.6 1077.5M1003.9 1075.4L1005.4 1074.4 1006.9 1073.4M1010.1 1071.3L1011.6 1070.2 1013.1 1069.2M1016.3 1067.0L1017.8 1066.0 1019.3 1065.0M1022.6 1062.8L1024.1 1061.8 1025.6 1060.8M1028.8 1058.6L1030.3 1057.6 1031.8 1056.5M1035.1 1054.3L1036.6 1053.3 1038.1 1052.3M1041.3 1050.0L1042.8 1048.9 1044.3 1047.9" fill="none" stroke="#0000ff" stroke-width="1.6"/><path d="M136.5 1478.3 L140.5 1477.3 L144.5 1476.3 L148.5 1475.3 L152.5 1474.3 L156.5 1473.3 L160.5 1472.3 L164.5 1471.3 L168.5 1470.3 L172.5 1469.3 L176.5 1468.2 L180.5 1467.2 L184.5 1466.2 L188.5 1465.2 L192.5 1464.2 L196.5 1463.2 L200.5 1462.2 L204.5 1461.1 L208.5 1460.1 L212.5 1459.1 L216.5 1458.1 L220.5 1457.1 L224.5 1456 L228.5 1455 L232.5 1454 L236.5 1453 L240.5 1451.9 L244.5 1450.9 L248.5 1449.9 L252.5 1448.8 L256.5 1447.8 L260.5 1446.8 L264.5 1445.7 L268.5 1444.7 L272.5 1443.6 L276.5 1442.6 L280.5 1441.6 L284.5 1440.5 L288.5 1439.5 L292.5 1438.4 L296.5 1437.4 L300.5 1436.3 L304.5 1435.3 L308.5 1434.2 L312.5 1433.2 L316.5 1432.1 L320.5 1431.1 L324.5 1430 L328.5 1429 L332.5 1427.9 L336.5 1426.8 L340.5 1425.8 L344.5 1424.7 L348.5 1423.6 L352.5 1422.6 L356.5 1421.5 L360.5 1420.4 L364.5 1419.4 L368.5 1418.3 L372.5 1417.2 L376.5 1416.2 L380.5 1415.1 L384.5 1414 L388.5 1412.9 L392.5 1411.9 L396.5 1410.8 L400.5 1409.7 L404.5 1408.6 L408.5 1407.5 L412.5 1406.5 L416.5 1405.4 L420.5 1404.3 L424.5 1403.2 L428.5 1402.1 L432.5 1401 L436.5 1399.9 L440.5 1398.8 L444.5 1397.7 L448.5 1396.6 L452.5 1395.5 L456.5 1394.4 L460.5 1393.3 L464.5 1392.2 L468.5 1391.1 L472.5 1390 L476.5 1388.9 L480.5 1387.8 L484.5 1386.7 L488.5 1385.6 L492.5 1384.5 L496.5 1383.4 L500.5 1382.3 L504.5 1381.2 L508.5 1380.1 L512.5 1378.9 L516.5 1377.8 L520.5 1376.7 L524.5 1375.6 L528.5 1374.5 L532.5 1373.3 L536.5 1372.2 L540.5 1371.1 L544.5 1370 L548.5 1368.8 L552.5 1367.7 L556.5 1366.6 L560.5 1365.5 L564.5 1364.3 L568.5 1363.2 L572.5 1362.1 L576.5 1360.9 L580.5 1359.8 L584.5 1358.6 L588.5 1357.5 L592.5 1356.4 L596.6 1355.2 L600.6 1354.1 L604.6 1352.9 L608.6 1351.8 L612.6 1350.6 L616.6 1349.5 L620.6 1348.3 L624.6 1347.2 L628.6 1346 L632.6 1344.9 L636.6 1343.7 L640.6 1342.6 L644.6 1341.4 L648.6 1340.3 L652.6 1339.1 L656.6 1337.9 L660.6 1336.8 L664.6 1335.6 L668.6 1334.4 L672.6 1333.3 L676.6 1332.1 L680.6 1330.9 L684.6 1329.8 L688.6 1328.6 L692.6 1327.4 L696.6 1326.3 L700.6 1325.1 L704.6 1323.9 L708.6 1322.7 L712.6 1321.6 L716.6 1320.4 L720.6 1319.2 L724.6 1318 L728.6 1316.8 L732.6 1315.6 L736.6 1314.5 L740.6 1313.3 L744.6 1312.1 L748.6 1310.9 L752.6 1309.7 L756.6 1308.5 L760.6 1307.3 L764.6 1306.1 L768.6 1304.9 L772.6 1303.7 L776.6 1302.5 L780.6 1301.3 L784.6 1300.1 L788.6 1298.9 L792.6 1297.7 L796.6 1296.5 L800.6 1295.3 L804.6 1294.1 L808.6 1292.9 L812.6 1291.7 L816.6 1290.5 L820.6 1289.3 L824.6 1288.1 L828.6 1286.8 L832.6 1285.6 L836.6 1284.4 L840.6 1283.2 L844.6 1282 L848.6 1280.8 L852.6 1279.5 L856.6 1278.3 L860.6 1277.1 L864.6 1275.9 L868.6 1274.6 L872.6 1273.4 L876.6 1272.2 L880.6 1270.9 L884.6 1269.7 L888.6 1268.5 L892.6 1267.2 L896.6 1266 L900.6 1264.8 L904.6 1263.5 L908.6 1262.3 L912.6 1261.1 L916.6 1259.8 L920.6 1258.6 L924.6 1257.3 L928.6 1256.1 L932.6 1254.8 L936.6 1253.6 L940.6 1252.3 L944.6 1251.1 L948.6 1249.8 L952.6 1248.6 L956.6 1247.3 L960.6 1246.1 L964.6 1244.8 L968.6 1243.6 L972.6 1242.3 L976.6 1241.1 L980.6 1239.8 L984.6 1238.5 L988.6 1237.3 L992.6 1236 L996.6 1234.7 L1000.6 1233.5 L1004.6 1232.2 L1008.6 1230.9 L1012.6 1229.7 L1016.6 1228.4 L1020.6 1227.1 L1024.6 1225.8 L1028.6 1224.6 L1032.6 1223.3 L1036.6 1222 L1040.6 1220.7 L1044.6 1219.4 L1048.6 1218.2" fill="none" stroke="#ff0000" stroke-width="3.4" stroke-linejoin="round" stroke-linecap="round"/><rect x="101" y="946.3" width="984.3" height="666.9" fill="none" stroke="#000" stroke-width="2"/><path d="M137.4 1613.2V1592.2M143.91 1613.2V1592.2M176.46 1613.2V1592.2M195.99 1613.2V1592.2M202.5 1613.2V1592.2M208.98 1613.2V1592.2M221.95 1613.2V1592.2M228.44 1613.2V1592.2M234.93 1613.2V1592.2M247.9 1613.2V1592.2M254.38 1613.2V1592.2M260.87 1613.2V1592.2M267.35 1613.2V1592.2M273.83 1613.2V1592.2M280.32 1613.2V1592.2M286.8 1613.2V1592.2M293.29 1613.2V1592.2M299.77 1613.2V1592.2M306.26 1613.2V1592.2M310.15 1613.2V1592.2M312.75 1613.2V1592.2M319.23 1613.2V1592.2M325.72 1613.2V1592.2M332.2 1613.2V1592.2M338.68 1613.2V1592.2M345.17 1613.2V1592.2M351.66 1613.2V1592.2M358.14 1613.2V1592.2M364.62 1613.2V1592.2M371.11 1613.2V1592.2M377.59 1613.2V1592.2M384.08 1613.2V1592.2M390.56 1613.2V1592.2M397.05 1613.2V1592.2M403.53 1613.2V1592.2M410.02 1613.2V1592.2M416.5 1613.2V1592.2M422.99 1613.2V1592.2M429.47 1613.2V1592.2M435.96 1613.2V1592.2M442.44 1613.2V1592.2M448.93 1613.2V1592.2M455.42 1613.2V1592.2M461.9 1613.2V1592.2M468.46 1613.2V1592.2M475.03 1613.2V1592.2M481.6 1613.2V1592.2M488.16 1613.2V1592.2M494.73 1613.2V1592.2M501.29 1613.2V1592.2M507.85 1613.2V1592.2M514.42 1613.2V1592.2M520.99 1613.2V1592.2M527.55 1613.2V1592.2M534.12 1613.2V1592.2M540.68 1613.2V1592.2M547.25 1613.2V1592.2M553.81 1613.2V1592.2M560.38 1613.2V1592.2M566.94 1613.2V1592.2M573.5 1613.2V1592.2M580.07 1613.2V1592.2M586.64 1613.2V1592.2M593.2 1613.2V1592.2M599.68 1613.2V1592.2M606.16 1613.2V1592.2M612.64 1613.2V1592.2M619.12 1613.2V1592.2M625.6 1613.2V1592.2M632.08 1613.2V1592.2M638.56 1613.2V1592.2M645.04 1613.2V1592.2M651.52 1613.2V1592.2M658 1613.2V1592.2M664.48 1613.2V1592.2M670.96 1613.2V1592.2M677.44 1613.2V1592.2M683.92 1613.2V1592.2M690.4 1613.2V1592.2M696.88 1613.2V1592.2M703.36 1613.2V1592.2M709.84 1613.2V1592.2M716.32 1613.2V1592.2M722.8 1613.2V1592.2M729.36 1613.2V1592.2M735.93 1613.2V1592.2M742.5 1613.2V1592.2M749.06 1613.2V1592.2M755.62 1613.2V1592.2M762.19 1613.2V1592.2M768.75 1613.2V1592.2M775.32 1613.2V1592.2M781.88 1613.2V1592.2M788.45 1613.2V1592.2M801.58 1613.2V1592.2M808.14 1613.2V1592.2M814.71 1613.2V1592.2M821.27 1613.2V1592.2M827.84 1613.2V1592.2M834.4 1613.2V1592.2M840.97 1613.2V1592.2M847.54 1613.2V1592.2M854.1 1613.2V1592.2M873.54 1613.2V1592.2M886.5 1613.2V1592.2M899.46 1613.2V1592.2M918.9 1613.2V1592.2M938.34 1613.2V1592.2M951.3 1613.2V1592.2M983.7 1613.2V1592.2M1016.25 1613.2V1592.2M1048.8 1613.2V1592.2" stroke="#000" stroke-width="1.7" fill="none"/><path d="M202.5 1613.2V1624.7M332.2 1613.2V1624.7M461.9 1613.2V1624.7M593.2 1613.2V1624.7M722.8 1613.2V1624.7M854.1 1613.2V1624.7M983.7 1613.2V1624.7" stroke="#000" stroke-width="2" fill="none"/><text class="tk" text-anchor="middle" transform="translate(201.7 1654.5) scale(1 1.07)">6</text><text class="tk" text-anchor="middle" transform="translate(331.4 1654.5) scale(1 1.07)">8</text><text class="tk" text-anchor="middle" transform="translate(461.1 1654.5) scale(1 1.07)">10</text><text class="tk" text-anchor="middle" transform="translate(592.4 1654.5) scale(1 1.07)">12</text><text class="tk" text-anchor="middle" transform="translate(722 1654.5) scale(1 1.07)">14</text><text class="tk" text-anchor="middle" transform="translate(853.3 1654.5) scale(1 1.07)">16</text><text class="tk" text-anchor="middle" transform="translate(982.9 1654.5) scale(1 1.07)">18</text><path d="M101 1592.62H88M101 1471.08H88M101 1349.54H88M101 1228H88M101 1106.46H88M101 984.92H88" stroke="#000" stroke-width="2" fill="none"/><text class="tkr" text-anchor="middle" transform="translate(74.3 1592.62) rotate(-90) scale(1 1.07)">0.15</text><text class="tkr" text-anchor="middle" transform="translate(74.3 1471.08) rotate(-90) scale(1 1.07)">0.20</text><text class="tkr" text-anchor="middle" transform="translate(74.3 1349.54) rotate(-90) scale(1 1.07)">0.25</text><text class="tkr" text-anchor="middle" transform="translate(74.3 1228) rotate(-90) scale(1 1.07)">0.30</text><text class="tkr" text-anchor="middle" transform="translate(74.3 1106.46) rotate(-90) scale(1 1.07)">0.35</text><text class="tkr" text-anchor="middle" transform="translate(74.3 984.92) rotate(-90) scale(1 1.07)">0.40</text><text class="ax" text-anchor="middle" transform="translate(591.35 1699.5) scale(1 1.07)">THICKNESS</text><text class="ax" text-anchor="middle" transform="translate(28.3 1279.75) rotate(-90) scale(1 1.07)">LGA</text><text class="lt" transform="translate(23.3 921.6) scale(1 1.04)">C</text></g>
<g><path d="M1261.1 1479.9L1262.6 1479.8 1264.1 1479.6M1267.3 1479.3L1268.8 1479.1 1270.3 1479.0M1273.6 1478.7L1275.1 1478.6 1276.6 1478.4M1279.8 1478.2L1281.3 1478.1 1282.8 1478.0M1286.1 1477.7L1287.6 1477.6 1289.1 1477.5M1292.3 1477.3L1293.8 1477.3 1295.3 1477.2M1298.5 1477.0L1300.0 1477.0 1301.5 1476.9M1304.8 1476.8L1306.3 1476.7 1307.8 1476.7M1311.0 1476.6L1312.5 1476.5 1314.0 1476.5M1317.3 1476.4L1318.8 1476.4 1320.3 1476.4M1323.5 1476.3L1325.0 1476.3 1326.5 1476.3M1329.7 1476.3L1331.2 1476.3 1332.7 1476.3M1336.0 1476.3L1337.5 1476.3 1339.0 1476.3M1342.2 1476.4L1343.7 1476.5 1345.2 1476.5M1348.5 1476.5L1350.0 1476.5 1351.5 1476.6M1354.7 1476.7L1356.2 1476.8 1357.7 1476.8M1360.9 1476.9L1362.4 1477.0 1363.9 1477.0M1367.2 1477.2L1368.7 1477.3 1370.2 1477.3M1373.4 1477.5L1374.9 1477.6 1376.4 1477.7M1379.7 1477.9L1381.2 1478.0 1382.7 1478.1M1385.9 1478.2L1387.4 1478.4 1388.9 1478.5M1392.1 1478.7L1393.6 1478.8 1395.1 1478.9M1398.4 1479.2L1399.9 1479.3 1401.4 1479.4M1404.6 1479.7L1406.1 1479.9 1407.6 1480.0M1410.9 1480.3L1412.4 1480.4 1413.9 1480.6M1417.1 1480.9L1418.6 1481.0 1420.1 1481.2M1423.3 1481.5L1424.8 1481.6 1426.3 1481.8M1429.6 1482.2L1431.1 1482.4 1432.6 1482.5M1435.8 1482.9L1437.3 1483.1 1438.8 1483.3M1442.1 1483.7L1443.6 1483.8 1445.1 1484.0M1448.3 1484.4L1449.8 1484.6 1451.3 1484.8M1454.5 1485.2L1456.0 1485.4 1457.5 1485.6M1460.8 1486.0L1462.3 1486.2 1463.8 1486.5M1467.0 1486.9L1468.5 1487.1 1470.0 1487.3M1473.3 1487.8L1474.8 1488.0 1476.3 1488.1M1479.5 1488.6L1481.0 1488.8 1482.5 1489.0M1485.7 1489.5L1487.2 1489.8 1488.7 1490.0M1492.0 1490.5L1493.5 1490.7 1495.0 1491.0M1498.2 1491.5L1499.7 1491.7 1501.2 1492.0M1504.5 1492.4L1506.0 1492.7 1507.5 1492.9M1510.7 1493.5L1512.2 1493.7 1513.7 1493.9M1516.9 1494.5L1518.4 1494.7 1519.9 1495.0M1523.2 1495.5L1524.7 1495.8 1526.2 1496.0M1529.4 1496.6L1530.9 1496.8 1532.4 1497.0M1535.7 1497.6L1537.2 1497.8 1538.7 1498.1M1541.9 1498.7L1543.4 1498.9 1544.9 1499.2M1548.1 1499.7L1549.6 1499.9 1551.1 1500.2M1554.4 1500.7L1555.9 1501.0 1557.4 1501.3M1560.6 1501.8L1562.1 1502.1 1563.6 1502.3M1566.9 1502.8L1568.4 1503.1 1569.9 1503.3M1573.1 1503.9L1574.6 1504.2 1576.1 1504.4M1579.3 1504.9L1580.8 1505.2 1582.3 1505.4M1585.6 1505.9L1587.1 1506.1 1588.6 1506.3M1591.8 1506.9L1593.3 1507.2 1594.8 1507.4M1598.1 1507.9L1599.6 1508.1 1601.1 1508.3M1604.3 1508.8L1605.8 1509.0 1607.3 1509.2M1610.5 1509.7L1612.0 1509.9 1613.5 1510.1M1616.8 1510.6L1618.3 1510.8 1619.8 1511.0M1623.0 1511.4L1624.5 1511.6 1626.0 1511.8M1629.3 1512.2L1630.8 1512.4 1632.3 1512.6M1635.5 1513.0L1637.0 1513.2 1638.5 1513.4M1641.7 1513.7L1643.2 1513.9 1644.7 1514.1M1648.0 1514.4L1649.5 1514.6 1651.0 1514.8M1654.2 1515.2L1655.7 1515.3 1657.2 1515.4M1660.5 1515.8L1662.0 1515.9 1663.5 1516.1M1666.7 1516.4L1668.2 1516.5 1669.7 1516.6M1672.9 1516.9L1674.4 1517.1 1675.9 1517.2M1679.2 1517.5L1680.7 1517.6 1682.2 1517.7M1685.4 1518.0L1686.9 1518.1 1688.4 1518.2M1691.7 1518.4L1693.2 1518.6 1694.7 1518.7M1697.9 1518.9L1699.4 1519.0 1700.9 1519.1M1704.1 1519.4L1705.6 1519.5 1707.1 1519.6M1710.4 1519.7L1711.9 1519.9 1713.4 1520.0M1716.6 1520.1L1718.1 1520.2 1719.6 1520.3M1722.9 1520.5L1724.4 1520.6 1725.9 1520.7M1729.1 1520.9L1730.6 1520.9 1732.1 1521.0M1735.3 1521.2L1736.8 1521.2 1738.3 1521.3M1741.6 1521.4L1743.1 1521.5 1744.6 1521.5M1747.8 1521.7L1749.3 1521.8 1750.8 1521.8M1754.1 1521.9L1755.6 1522.0 1757.1 1522.1M1760.3 1522.2L1761.8 1522.2 1763.3 1522.2M1766.5 1522.3L1768.0 1522.4 1769.5 1522.5M1772.8 1522.6L1774.3 1522.6 1775.8 1522.6M1779.0 1522.7L1780.5 1522.8 1782.0 1522.8M1785.3 1522.9L1786.8 1522.9 1788.3 1523.0M1791.5 1523.0L1793.0 1523.1 1794.5 1523.1M1797.7 1523.2L1799.2 1523.2 1800.7 1523.3M1804.0 1523.3L1805.5 1523.4 1807.0 1523.4M1810.2 1523.4L1811.7 1523.4 1813.2 1523.5M1816.5 1523.6L1818.0 1523.6 1819.5 1523.6M1822.7 1523.6L1824.2 1523.7 1825.7 1523.7M1828.9 1523.7L1830.4 1523.7 1831.9 1523.7M1835.2 1523.8L1836.7 1523.9 1838.2 1523.9M1841.4 1523.9L1842.9 1523.9 1844.4 1524.0M1847.7 1524.0L1849.2 1524.0 1850.7 1524.0M1853.9 1524.1L1855.4 1524.1 1856.9 1524.1M1860.1 1524.1L1861.6 1524.1 1863.1 1524.1M1866.4 1524.2L1867.9 1524.2 1869.4 1524.2M1872.6 1524.3L1874.1 1524.3 1875.6 1524.3M1878.9 1524.3L1880.4 1524.4 1881.9 1524.4M1885.1 1524.4L1886.6 1524.4 1888.1 1524.5M1891.3 1524.5L1892.8 1524.5 1894.3 1524.5M1897.6 1524.6L1899.1 1524.6 1900.6 1524.7M1903.8 1524.7L1905.3 1524.7 1906.8 1524.7M1910.1 1524.8L1911.6 1524.8 1913.1 1524.9M1916.3 1524.9L1917.8 1524.9 1919.3 1524.9M1922.5 1525.0L1924.0 1525.0 1925.5 1525.1M1928.8 1525.2L1930.3 1525.2 1931.8 1525.2M1935.0 1525.2L1936.5 1525.3 1938.0 1525.3M1941.3 1525.4L1942.8 1525.4 1944.3 1525.5M1947.5 1525.6L1949.0 1525.6 1950.5 1525.7M1953.7 1525.8L1955.2 1525.8 1956.7 1525.9M1960.0 1525.9L1961.5 1526.0 1963.0 1526.0M1966.2 1526.2L1967.7 1526.2 1969.2 1526.3M1972.5 1526.4L1974.0 1526.4 1975.5 1526.5M1978.7 1526.6L1980.2 1526.7 1981.7 1526.8M1984.9 1526.9L1986.4 1526.9 1987.9 1527.0M1991.2 1527.1L1992.7 1527.2 1994.2 1527.3M1997.4 1527.5L1998.9 1527.5 2000.4 1527.6M2003.7 1527.8L2005.2 1527.8 2006.7 1527.9M2009.9 1528.2L2011.4 1528.3 2012.9 1528.3M2016.1 1528.5L2017.6 1528.7 2019.1 1528.7M2022.4 1528.9L2023.9 1529.0 2025.4 1529.1M2028.6 1529.3L2030.1 1529.4 2031.6 1529.5M2034.9 1529.7L2036.4 1529.8 2037.9 1530.0M2041.1 1530.2L2042.6 1530.3 2044.1 1530.4M2047.3 1530.6L2048.8 1530.7 2050.3 1530.8M2053.6 1531.0L2055.1 1531.2 2056.6 1531.3M2059.8 1531.5L2061.3 1531.6 2062.8 1531.7M2066.1 1532.1L2067.6 1532.2 2069.1 1532.3M2072.3 1532.5L2073.8 1532.7 2075.3 1532.8M2078.5 1533.0L2080.0 1533.1 2081.5 1533.2M2084.8 1533.5L2086.3 1533.6 2087.8 1533.7M2091.0 1534.0L2092.5 1534.1 2094.0 1534.3M2097.3 1534.5L2098.8 1534.6 2100.3 1534.7M2103.5 1535.0L2105.0 1535.1 2106.5 1535.2M2109.7 1535.4L2111.2 1535.6 2112.7 1535.7M2116.0 1535.9L2117.5 1536.0 2119.0 1536.1M2122.2 1536.4L2123.7 1536.5 2125.2 1536.6M2128.5 1536.8L2130.0 1537.0 2131.5 1537.1M2134.7 1537.3L2136.2 1537.4 2137.7 1537.5M2140.9 1537.8L2142.4 1537.9 2143.9 1538.0M2147.2 1538.2L2148.7 1538.4 2150.2 1538.5M2153.4 1538.6L2154.9 1538.7 2156.4 1538.8M2159.7 1539.1L2161.2 1539.1 2162.7 1539.2M2165.9 1539.4L2167.4 1539.5 2168.9 1539.6M2172.1 1539.8L2173.4 1539.9 2174.6 1540.0" fill="none" stroke="#0000ff" stroke-width="1.6"/><path d="M1261.9 1054.1L1262.2 1055.6 1262.6 1057.1M1263.3 1060.3L1263.6 1061.8 1263.9 1063.3M1264.6 1066.6L1265.0 1068.1 1265.3 1069.6M1266.0 1072.8L1266.4 1074.3 1266.8 1075.8M1267.7 1079.1L1268.1 1080.6 1268.5 1082.1M1269.4 1085.3L1269.8 1086.8 1270.3 1088.3M1271.3 1091.5L1271.8 1093.0 1272.3 1094.5M1273.3 1097.8L1273.7 1099.3 1274.2 1100.8M1275.2 1104.0L1275.7 1105.5 1276.2 1107.0M1277.2 1110.3L1277.6 1111.8 1278.1 1113.3M1279.1 1116.5L1279.5 1118.0 1280.0 1119.5M1281.0 1122.7L1281.4 1124.2 1281.9 1125.7M1282.8 1129.0L1283.2 1130.5 1283.7 1132.0M1284.6 1135.2L1285.0 1136.7 1285.5 1138.2M1286.4 1141.5L1286.9 1143.0 1287.3 1144.5M1288.2 1147.7L1288.7 1149.2 1289.1 1150.7M1290.1 1153.9L1290.5 1155.4 1291.0 1156.9M1292.0 1160.2L1292.5 1161.7 1292.9 1163.2M1293.9 1166.4L1294.4 1167.9 1294.9 1169.4M1296.0 1172.7L1296.5 1174.2 1297.0 1175.7M1298.0 1178.9L1298.5 1180.4 1299.0 1181.9M1300.1 1185.1L1300.6 1186.6 1301.1 1188.1M1302.2 1191.4L1302.7 1192.9 1303.2 1194.4M1304.3 1197.6L1304.8 1199.1 1305.2 1200.6M1306.3 1203.9L1306.8 1205.4 1307.3 1206.9M1308.4 1210.1L1308.9 1211.6 1309.4 1213.1M1310.5 1216.3L1311.0 1217.8 1311.5 1219.3M1312.6 1222.6L1313.1 1224.1 1313.6 1225.6M1314.8 1228.8L1315.4 1230.3 1315.9 1231.8M1317.1 1235.1L1317.7 1236.6 1318.2 1238.1M1319.5 1241.3L1320.1 1242.8 1320.7 1244.3M1322.0 1247.5L1322.6 1249.0 1323.2 1250.5M1324.5 1253.8L1325.1 1255.3 1325.7 1256.8M1327.0 1260.0L1327.6 1261.5 1328.3 1263.0M1329.6 1266.3L1330.2 1267.8 1330.9 1269.3M1332.2 1272.5L1332.8 1274.0 1333.5 1275.5M1334.8 1278.7L1335.5 1280.2 1336.1 1281.7M1337.4 1285.0L1338.0 1286.5 1338.7 1288.0M1340.0 1291.2L1340.7 1292.7 1341.3 1294.2M1342.7 1297.5L1343.3 1299.0 1344.0 1300.5M1345.4 1303.7L1346.1 1305.2 1346.8 1306.7M1348.3 1309.9L1349.0 1311.4 1349.7 1312.9M1351.4 1316.2L1352.1 1317.7 1352.9 1319.2M1354.7 1322.4L1355.7 1323.9 1356.6 1325.4M1358.6 1328.7L1359.6 1330.2 1360.6 1331.7M1362.8 1334.9L1363.8 1336.4 1364.8 1337.9M1367.0 1341.1L1368.0 1342.6 1368.9 1344.1M1370.9 1347.4L1371.8 1348.9 1372.6 1350.4M1374.4 1353.6L1375.2 1355.1 1376.0 1356.6M1377.7 1359.9L1378.4 1361.4 1379.2 1362.9M1380.8 1366.1L1381.6 1367.6 1382.4 1369.1M1384.2 1372.3L1385.0 1373.8 1385.8 1375.3M1387.8 1378.6L1388.7 1380.1 1389.6 1381.6M1391.8 1384.8L1392.8 1386.3 1393.9 1387.8M1396.4 1391.1L1397.6 1392.6 1398.7 1394.1M1401.3 1397.3L1402.5 1398.8 1403.8 1400.3M1406.5 1403.5L1407.8 1405.0 1409.2 1406.5M1412.1 1409.8L1413.5 1411.3 1414.9 1412.8M1418.0 1416.0L1419.5 1417.5 1421.0 1419.0M1424.3 1422.2L1425.8 1423.7 1427.3 1425.1M1430.5 1428.1L1432.0 1429.4 1433.5 1430.7M1436.7 1433.5L1438.2 1434.9 1439.7 1436.1M1443.0 1438.8L1444.5 1440.0 1446.0 1441.2M1449.2 1443.6L1450.7 1444.7 1452.2 1445.9M1455.5 1448.2L1457.0 1449.3 1458.5 1450.3M1461.7 1452.5L1463.2 1453.5 1464.7 1454.4M1467.9 1456.5L1469.4 1457.4 1470.9 1458.3M1474.2 1460.2L1475.7 1461.0 1477.2 1461.9M1480.4 1463.7L1481.9 1464.5 1483.4 1465.3M1486.7 1466.9L1488.2 1467.6 1489.7 1468.4M1492.9 1469.9L1494.4 1470.6 1495.9 1471.2M1499.1 1472.7L1500.6 1473.3 1502.1 1473.9M1505.4 1475.2L1506.9 1475.7 1508.4 1476.3M1511.6 1477.5L1513.1 1478.0 1514.6 1478.5M1517.9 1479.6L1519.4 1480.1 1520.9 1480.6M1524.1 1481.5L1525.6 1482.0 1527.1 1482.4M1530.3 1483.3L1531.8 1483.7 1533.3 1484.2M1536.6 1485.0L1538.1 1485.4 1539.6 1485.7M1542.8 1486.4L1544.3 1486.8 1545.8 1487.1M1549.1 1487.8L1550.6 1488.1 1552.1 1488.3M1555.3 1488.9L1556.8 1489.2 1558.3 1489.5M1561.5 1490.0L1563.0 1490.3 1564.5 1490.5M1567.8 1491.0L1569.3 1491.2 1570.8 1491.4M1574.0 1491.9L1575.5 1492.1 1577.0 1492.3M1580.3 1492.7L1581.8 1492.9 1583.3 1493.1M1586.5 1493.4L1588.0 1493.6 1589.5 1493.7M1592.7 1494.1L1594.2 1494.2 1595.7 1494.4M1599.0 1494.6L1600.5 1494.8 1602.0 1494.9M1605.2 1495.2L1606.7 1495.4 1608.2 1495.5M1611.5 1495.7L1613.0 1495.9 1614.5 1496.0M1617.7 1496.2L1619.2 1496.3 1620.7 1496.4M1623.9 1496.6L1625.4 1496.7 1626.9 1496.8M1630.2 1497.0L1631.7 1497.0 1633.2 1497.1M1636.4 1497.2L1637.9 1497.3 1639.4 1497.3M1642.7 1497.5L1644.2 1497.5 1645.7 1497.6M1648.9 1497.6L1650.4 1497.7 1651.9 1497.7M1655.1 1497.7L1656.6 1497.7 1658.1 1497.7M1661.4 1497.7L1662.9 1497.7 1664.4 1497.7M1667.6 1497.7L1669.1 1497.6 1670.6 1497.6M1673.9 1497.5L1675.4 1497.5 1676.9 1497.5M1680.1 1497.4L1681.6 1497.3 1683.1 1497.3M1686.3 1497.1L1687.8 1497.0 1689.3 1496.9M1692.6 1496.7L1694.1 1496.6 1695.6 1496.6M1698.8 1496.3L1700.3 1496.2 1701.8 1496.1M1705.1 1495.9L1706.6 1495.7 1708.1 1495.6M1711.3 1495.3L1712.8 1495.1 1714.3 1495.0M1717.5 1494.7L1719.0 1494.5 1720.5 1494.3M1723.8 1493.9L1725.3 1493.8 1726.8 1493.6M1730.0 1493.2L1731.5 1493.0 1733.0 1492.9M1736.3 1492.4L1737.8 1492.2 1739.3 1492.0M1742.5 1491.5L1744.0 1491.3 1745.5 1491.1M1748.7 1490.6L1750.2 1490.4 1751.7 1490.1M1755.0 1489.6L1756.5 1489.4 1758.0 1489.2M1761.2 1488.6L1762.7 1488.4 1764.2 1488.1M1767.5 1487.6L1769.0 1487.3 1770.5 1487.0M1773.7 1486.4L1775.2 1486.1 1776.7 1485.9M1779.9 1485.3L1781.4 1485.0 1782.9 1484.7M1786.2 1484.0L1787.7 1483.7 1789.2 1483.4M1792.4 1482.8L1793.9 1482.5 1795.4 1482.2M1798.7 1481.4L1800.2 1481.1 1801.7 1480.8M1804.9 1480.0L1806.4 1479.7 1807.9 1479.4M1811.1 1478.6L1812.6 1478.3 1814.1 1477.9M1817.4 1477.2L1818.9 1476.8 1820.4 1476.4M1823.6 1475.5L1825.1 1475.2 1826.6 1474.8M1829.9 1473.9L1831.4 1473.5 1832.9 1473.1M1836.1 1472.1L1837.6 1471.6 1839.1 1471.2M1842.3 1470.2L1843.8 1469.8 1845.3 1469.3M1848.6 1468.2L1850.1 1467.8 1851.6 1467.3M1854.8 1466.1L1856.3 1465.6 1857.8 1465.1M1861.1 1463.9L1862.6 1463.4 1864.1 1462.8M1867.3 1461.6L1868.8 1461.0 1870.3 1460.4M1873.5 1459.1L1875.0 1458.5 1876.5 1457.8M1879.8 1456.4L1881.3 1455.7 1882.8 1455.1M1886.0 1453.6L1887.5 1452.9 1889.0 1452.2M1892.3 1450.7L1893.8 1449.9 1895.3 1449.2M1898.5 1447.5L1900.0 1446.8 1901.5 1446.0M1904.7 1444.3L1906.2 1443.4 1907.7 1442.6M1911.0 1440.8L1912.5 1439.9 1914.0 1439.0M1917.2 1437.0L1918.7 1436.1 1920.2 1435.2M1923.5 1433.2L1925.0 1432.2 1926.5 1431.2M1929.7 1429.1L1931.2 1428.0 1932.7 1427.0M1935.9 1424.8L1937.4 1423.7 1938.9 1422.7M1942.2 1420.2L1943.7 1419.1 1945.2 1418.0M1948.4 1415.4L1949.9 1414.3 1951.4 1413.1M1954.7 1410.5L1956.2 1409.2 1957.7 1408.0M1960.9 1405.3L1962.4 1404.0 1963.9 1402.7M1967.1 1399.8L1968.6 1398.4 1970.1 1397.0M1973.4 1394.0L1974.9 1392.7 1976.4 1391.2M1979.6 1388.1L1981.1 1386.6 1982.6 1385.1M1985.8 1381.8L1987.3 1380.3 1988.7 1378.8M1991.9 1375.6L1993.3 1374.1 1994.7 1372.6M1997.7 1369.4L1999.1 1367.9 2000.5 1366.4M2003.5 1363.1L2004.9 1361.6 2006.2 1360.1M2009.1 1356.9L2010.4 1355.4 2011.7 1353.9M2014.6 1350.6L2015.9 1349.1 2017.1 1347.6M2019.9 1344.4L2021.2 1342.9 2022.5 1341.4M2025.2 1338.2L2026.4 1336.7 2027.7 1335.2M2030.4 1331.9L2031.6 1330.4 2032.9 1328.9M2035.5 1325.7L2036.8 1324.2 2038.0 1322.7M2040.7 1319.4L2041.9 1317.9 2043.1 1316.4M2045.6 1313.2L2046.8 1311.7 2048.0 1310.2M2050.5 1307.0L2051.6 1305.5 2052.8 1304.0M2055.2 1300.7L2056.3 1299.2 2057.4 1297.7M2059.8 1294.5L2060.9 1293.0 2062.0 1291.5M2064.3 1288.2L2065.4 1286.7 2066.4 1285.2M2068.6 1282.0L2069.6 1280.5 2070.6 1279.0M2072.8 1275.8L2073.8 1274.3 2074.8 1272.8M2076.9 1269.5L2077.9 1268.0 2078.9 1266.5M2080.9 1263.3L2081.8 1261.8 2082.7 1260.3M2084.7 1257.0L2085.5 1255.5 2086.4 1254.0M2088.3 1250.8L2089.2 1249.3 2090.0 1247.8M2091.9 1244.6L2092.7 1243.1 2093.5 1241.6M2095.3 1238.3L2096.1 1236.8 2096.9 1235.3M2098.6 1232.1L2099.4 1230.6 2100.2 1229.1M2101.9 1225.8L2102.6 1224.3 2103.4 1222.8M2105.0 1219.6L2105.8 1218.1 2106.5 1216.6M2108.1 1213.4L2108.8 1211.9 2109.5 1210.4M2111.0 1207.1L2111.7 1205.6 2112.4 1204.1M2113.9 1200.9L2114.6 1199.4 2115.3 1197.9M2116.8 1194.6L2117.4 1193.1 2118.1 1191.6M2119.5 1188.4L2120.2 1186.9 2120.8 1185.4M2122.2 1182.2L2122.8 1180.7 2123.5 1179.2M2124.8 1175.9L2125.4 1174.4 2126.0 1172.9M2127.4 1169.7L2128.0 1168.2 2128.6 1166.7M2129.9 1163.4L2130.5 1161.9 2131.1 1160.4M2132.4 1157.2L2132.9 1155.7 2133.5 1154.2M2134.8 1151.0L2135.4 1149.5 2135.9 1148.0M2137.2 1144.7L2137.7 1143.2 2138.3 1141.7M2139.5 1138.5L2140.1 1137.0 2140.7 1135.5M2141.9 1132.2L2142.4 1130.7 2143.0 1129.2M2144.2 1126.0L2144.8 1124.5 2145.4 1123.0M2146.6 1119.8L2147.2 1118.3 2147.8 1116.8M2149.0 1113.5L2149.6 1112.0 2150.2 1110.5M2151.4 1107.3L2152.0 1105.8 2152.6 1104.3M2153.9 1101.0L2154.5 1099.5 2155.1 1098.0M2156.5 1094.8L2157.0 1093.3 2157.6 1091.8M2158.9 1088.6L2159.5 1087.1 2160.0 1085.6M2161.3 1082.3L2161.8 1080.8 2162.4 1079.3M2163.6 1076.1L2164.1 1074.6 2164.7 1073.1M2165.8 1069.8L2166.3 1068.3 2166.8 1066.8M2167.9 1063.6L2168.4 1062.1 2168.9 1060.6M2169.9 1057.4L2170.4 1055.9 2170.9 1054.4M2171.9 1051.1L2172.1 1050.5 2172.3 1049.8" fill="none" stroke="#0000ff" stroke-width="1.6"/><path d="M1262 1347.2 L1266 1350.8 L1270 1354.4 L1274 1357.9 L1278 1361.3 L1282 1364.7 L1286 1368 L1290 1371.3 L1294 1374.6 L1298 1377.8 L1302 1380.9 L1306 1384 L1310 1387 L1314 1390 L1318 1393 L1322 1395.9 L1326 1398.7 L1330 1401.5 L1334 1404.3 L1338 1407 L1342.1 1409.7 L1346.1 1412.3 L1350.1 1414.9 L1354.1 1417.4 L1358.1 1419.9 L1362.1 1422.4 L1366.1 1424.8 L1370.1 1427.1 L1374.1 1429.5 L1378.1 1431.7 L1382.1 1434 L1386.1 1436.2 L1390.1 1438.3 L1394.1 1440.4 L1398.1 1442.5 L1402.1 1444.5 L1406.1 1446.5 L1410.1 1448.5 L1414.1 1450.4 L1418.1 1452.3 L1422.1 1454.1 L1426.1 1455.9 L1430.1 1457.7 L1434.1 1459.4 L1438.1 1461.1 L1442.1 1462.7 L1446.1 1464.3 L1450.1 1465.9 L1454.1 1467.4 L1458.1 1469 L1462.1 1470.4 L1466.1 1471.9 L1470.1 1473.3 L1474.1 1474.6 L1478.1 1476 L1482.1 1477.3 L1486.1 1478.5 L1490.2 1479.8 L1494.2 1481 L1498.2 1482.2 L1502.2 1483.3 L1506.2 1484.4 L1510.2 1485.5 L1514.2 1486.5 L1518.2 1487.6 L1522.2 1488.6 L1526.2 1489.5 L1530.2 1490.5 L1534.2 1491.4 L1538.2 1492.2 L1542.2 1493.1 L1546.2 1493.9 L1550.2 1494.7 L1554.2 1495.5 L1558.2 1496.2 L1562.2 1496.9 L1566.2 1497.6 L1570.2 1498.3 L1574.2 1498.9 L1578.2 1499.5 L1582.2 1500.1 L1586.2 1500.7 L1590.2 1501.2 L1594.2 1501.7 L1598.2 1502.2 L1602.2 1502.7 L1606.2 1503.2 L1610.2 1503.6 L1614.2 1504 L1618.2 1504.4 L1622.2 1504.7 L1626.2 1505.1 L1630.2 1505.4 L1634.2 1505.7 L1638.2 1506 L1642.2 1506.3 L1646.3 1506.5 L1650.3 1506.8 L1654.3 1507 L1658.3 1507.2 L1662.3 1507.3 L1666.3 1507.5 L1670.3 1507.6 L1674.3 1507.8 L1678.3 1507.9 L1682.3 1508 L1686.3 1508.1 L1690.3 1508.1 L1694.3 1508.2 L1698.3 1508.2 L1702.3 1508.2 L1706.3 1508.3 L1710.3 1508.2 L1714.3 1508.2 L1718.3 1508.2 L1722.3 1508.2 L1726.3 1508.1 L1730.3 1508.1 L1734.3 1508 L1738.3 1507.9 L1742.3 1507.8 L1746.3 1507.7 L1750.3 1507.6 L1754.3 1507.4 L1758.3 1507.3 L1762.3 1507.1 L1766.3 1506.9 L1770.3 1506.8 L1774.3 1506.6 L1778.3 1506.4 L1782.3 1506.2 L1786.3 1505.9 L1790.3 1505.7 L1794.3 1505.5 L1798.4 1505.2 L1802.4 1505 L1806.4 1504.7 L1810.4 1504.4 L1814.4 1504.1 L1818.4 1503.8 L1822.4 1503.5 L1826.4 1503.2 L1830.4 1502.8 L1834.4 1502.5 L1838.4 1502.1 L1842.4 1501.8 L1846.4 1501.4 L1850.4 1501 L1854.4 1500.7 L1858.4 1500.3 L1862.4 1499.9 L1866.4 1499.5 L1870.4 1499 L1874.4 1498.6 L1878.4 1498.2 L1882.4 1497.7 L1886.4 1497.3 L1890.4 1496.8 L1894.4 1496.4 L1898.4 1495.9 L1902.4 1495.4 L1906.4 1494.9 L1910.4 1494.4 L1914.4 1493.9 L1918.4 1493.4 L1922.4 1492.9 L1926.4 1492.4 L1930.4 1491.9 L1934.4 1491.4 L1938.4 1490.8 L1942.4 1490.3 L1946.4 1489.7 L1950.5 1489.2 L1954.5 1488.6 L1958.5 1488 L1962.5 1487.5 L1966.5 1486.9 L1970.5 1486.3 L1974.5 1485.7 L1978.5 1485.1 L1982.5 1484.5 L1986.5 1483.9 L1990.5 1483.3 L1994.5 1482.7 L1998.5 1482.1 L2002.5 1481.4 L2006.5 1480.8 L2010.5 1480.2 L2014.5 1479.6 L2018.5 1478.9 L2022.5 1478.3 L2026.5 1477.6 L2030.5 1477 L2034.5 1476.3 L2038.5 1475.7 L2042.5 1475 L2046.5 1474.3 L2050.5 1473.7 L2054.5 1473 L2058.5 1472.3 L2062.5 1471.7 L2066.5 1471 L2070.5 1470.3 L2074.5 1469.6 L2078.5 1468.9 L2082.5 1468.3 L2086.5 1467.6 L2090.5 1466.9 L2094.5 1466.2 L2098.6 1465.5 L2102.6 1464.8 L2106.6 1464.1 L2110.6 1463.4 L2114.6 1462.7 L2118.6 1462 L2122.6 1461.3 L2126.6 1460.6 L2130.6 1459.9 L2134.6 1459.2 L2138.6 1458.5 L2142.6 1457.8 L2146.6 1457.1 L2150.6 1456.4 L2154.6 1455.7 L2158.6 1455 L2162.6 1454.3 L2166.6 1453.6 L2170.6 1452.9 L2174.6 1452.2" fill="none" stroke="#ff0000" stroke-width="3.4" stroke-linejoin="round" stroke-linecap="round"/><rect x="1226" y="946.3" width="984.3" height="666.9" fill="none" stroke="#000" stroke-width="2"/><path d="M1262.4 1613.2V1592.2M1268.91 1613.2V1592.2M1301.46 1613.2V1592.2M1320.99 1613.2V1592.2M1327.5 1613.2V1592.2M1333.98 1613.2V1592.2M1346.95 1613.2V1592.2M1353.44 1613.2V1592.2M1359.92 1613.2V1592.2M1372.89 1613.2V1592.2M1379.38 1613.2V1592.2M1385.87 1613.2V1592.2M1392.35 1613.2V1592.2M1398.84 1613.2V1592.2M1405.32 1613.2V1592.2M1411.8 1613.2V1592.2M1418.29 1613.2V1592.2M1424.78 1613.2V1592.2M1431.26 1613.2V1592.2M1435.15 1613.2V1592.2M1437.74 1613.2V1592.2M1444.23 1613.2V1592.2M1450.72 1613.2V1592.2M1457.2 1613.2V1592.2M1463.68 1613.2V1592.2M1470.17 1613.2V1592.2M1476.65 1613.2V1592.2M1483.14 1613.2V1592.2M1489.62 1613.2V1592.2M1496.11 1613.2V1592.2M1502.59 1613.2V1592.2M1509.08 1613.2V1592.2M1515.57 1613.2V1592.2M1522.05 1613.2V1592.2M1528.53 1613.2V1592.2M1535.02 1613.2V1592.2M1541.51 1613.2V1592.2M1547.99 1613.2V1592.2M1554.47 1613.2V1592.2M1560.96 1613.2V1592.2M1567.44 1613.2V1592.2M1573.93 1613.2V1592.2M1580.41 1613.2V1592.2M1586.9 1613.2V1592.2M1593.46 1613.2V1592.2M1600.03 1613.2V1592.2M1606.6 1613.2V1592.2M1613.16 1613.2V1592.2M1619.72 1613.2V1592.2M1626.29 1613.2V1592.2M1632.86 1613.2V1592.2M1639.42 1613.2V1592.2M1645.99 1613.2V1592.2M1652.55 1613.2V1592.2M1659.12 1613.2V1592.2M1665.68 1613.2V1592.2M1672.25 1613.2V1592.2M1678.81 1613.2V1592.2M1685.38 1613.2V1592.2M1691.94 1613.2V1592.2M1698.51 1613.2V1592.2M1705.07 1613.2V1592.2M1711.64 1613.2V1592.2M1718.2 1613.2V1592.2M1724.68 1613.2V1592.2M1731.16 1613.2V1592.2M1737.64 1613.2V1592.2M1744.12 1613.2V1592.2M1750.6 1613.2V1592.2M1757.08 1613.2V1592.2M1763.56 1613.2V1592.2M1770.04 1613.2V1592.2M1776.52 1613.2V1592.2M1783 1613.2V1592.2M1789.48 1613.2V1592.2M1795.96 1613.2V1592.2M1802.44 1613.2V1592.2M1808.92 1613.2V1592.2M1815.4 1613.2V1592.2M1821.88 1613.2V1592.2M1828.36 1613.2V1592.2M1834.84 1613.2V1592.2M1841.32 1613.2V1592.2M1847.8 1613.2V1592.2M1854.36 1613.2V1592.2M1860.93 1613.2V1592.2M1867.49 1613.2V1592.2M1874.06 1613.2V1592.2M1880.62 1613.2V1592.2M1887.19 1613.2V1592.2M1893.75 1613.2V1592.2M1900.32 1613.2V1592.2M1906.88 1613.2V1592.2M1913.45 1613.2V1592.2M1926.58 1613.2V1592.2M1933.14 1613.2V1592.2M1939.71 1613.2V1592.2M1946.28 1613.2V1592.2M1952.84 1613.2V1592.2M1959.4 1613.2V1592.2M1965.97 1613.2V1592.2M1972.54 1613.2V1592.2M1979.1 1613.2V1592.2M1998.54 1613.2V1592.2M2011.5 1613.2V1592.2M2024.46 1613.2V1592.2M2043.9 1613.2V1592.2M2063.34 1613.2V1592.2M2076.3 1613.2V1592.2M2108.7 1613.2V1592.2M2141.25 1613.2V1592.2M2173.8 1613.2V1592.2" stroke="#000" stroke-width="1.7" fill="none"/><path d="M1327.5 1613.2V1624.7M1457.2 1613.2V1624.7M1586.9 1613.2V1624.7M1718.2 1613.2V1624.7M1847.8 1613.2V1624.7M1979.1 1613.2V1624.7M2108.7 1613.2V1624.7" stroke="#000" stroke-width="2" fill="none"/><text class="tk" text-anchor="middle" transform="translate(1326.7 1654.5) scale(1 1.07)">6</text><text class="tk" text-anchor="middle" transform="translate(1456.4 1654.5) scale(1 1.07)">8</text><text class="tk" text-anchor="middle" transform="translate(1586.1 1654.5) scale(1 1.07)">10</text><text class="tk" text-anchor="middle" transform="translate(1717.4 1654.5) scale(1 1.07)">12</text><text class="tk" text-anchor="middle" transform="translate(1847 1654.5) scale(1 1.07)">14</text><text class="tk" text-anchor="middle" transform="translate(1978.3 1654.5) scale(1 1.07)">16</text><text class="tk" text-anchor="middle" transform="translate(2107.9 1654.5) scale(1 1.07)">18</text><path d="M1226 1555.15H1213M1226 1410.25H1213M1226 1265.35H1213M1226 1120.45H1213M1226 975.55H1213" stroke="#000" stroke-width="2" fill="none"/><text class="tkr" text-anchor="middle" transform="translate(1199.3 1555.15) rotate(-90) scale(1 1.07)">0.0</text><text class="tkr" text-anchor="middle" transform="translate(1199.3 1410.25) rotate(-90) scale(1 1.07)">0.1</text><text class="tkr" text-anchor="middle" transform="translate(1199.3 1265.35) rotate(-90) scale(1 1.07)">0.2</text><text class="tkr" text-anchor="middle" transform="translate(1199.3 1120.45) rotate(-90) scale(1 1.07)">0.3</text><text class="tkr" text-anchor="middle" transform="translate(1199.3 975.55) rotate(-90) scale(1 1.07)">0.4</text><text class="ax" text-anchor="middle" transform="translate(1716.35 1699.5) scale(1 1.07)">THICKNESS</text><text class="ax" text-anchor="middle" transform="translate(1153.3 1279.75) rotate(-90) scale(1 1.07)">LBW</text><text class="lt" transform="translate(1147.1 921.7) scale(1 1.04)">D</text></g>
</svg></body></html>
